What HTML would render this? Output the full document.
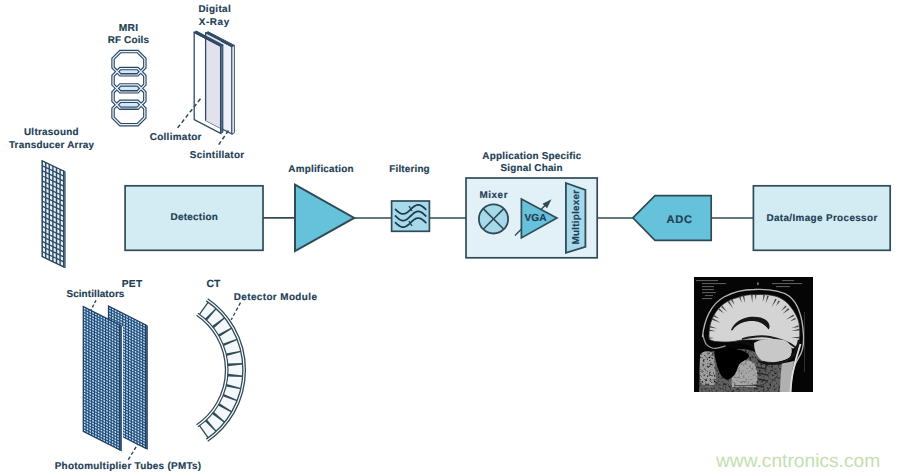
<!DOCTYPE html>
<html><head><meta charset="utf-8"><style>
html,body{margin:0;padding:0;background:#fff;}
svg{display:block;font-family:"Liberation Sans",sans-serif;}
</style></head><body>
<svg width="900" height="476" viewBox="0 0 900 476">
<rect width="900" height="476" fill="#ffffff"/>
<polygon points="120.25,68.55 137.65,68.55 141.25,71.68 137.65,74.80 120.25,74.80 116.65,71.68" fill="#d4e8f6"/>
<polygon points="120.25,84.95 137.65,84.95 141.25,88.40 137.65,91.85 120.25,91.85 116.65,88.40" fill="#d4e8f6"/>
<polygon points="120.25,101.35 137.65,101.35 141.25,104.80 137.65,108.25 120.25,108.25 116.65,104.80" fill="#d4e8f6"/>
<polygon points="120.27,51.50 137.63,51.50 144.85,58.72 144.85,67.58 137.63,74.80 120.27,74.80 113.05,67.58 113.05,58.72" fill="none" stroke="#284868" stroke-width="3.5" stroke-linejoin="miter"/>
<polygon points="120.27,68.55 137.63,68.55 144.85,75.77 144.85,84.63 137.63,91.85 120.27,91.85 113.05,84.63 113.05,75.77" fill="none" stroke="#284868" stroke-width="3.5" stroke-linejoin="miter"/>
<polygon points="120.27,84.95 137.63,84.95 144.85,92.17 144.85,101.03 137.63,108.25 120.27,108.25 113.05,101.03 113.05,92.17" fill="none" stroke="#284868" stroke-width="3.5" stroke-linejoin="miter"/>
<polygon points="120.27,101.35 137.63,101.35 144.85,108.57 144.85,117.43 137.63,124.65 120.27,124.65 113.05,117.43 113.05,108.57" fill="none" stroke="#284868" stroke-width="3.5" stroke-linejoin="miter"/>
<polygon points="120.27,51.50 137.63,51.50 144.85,58.72 144.85,67.58 137.63,74.80 120.27,74.80 113.05,67.58 113.05,58.72" fill="none" stroke="#eef2f7" stroke-width="1.25" stroke-linejoin="miter"/>
<polygon points="120.27,68.55 137.63,68.55 144.85,75.77 144.85,84.63 137.63,91.85 120.27,91.85 113.05,84.63 113.05,75.77" fill="none" stroke="#eef2f7" stroke-width="1.25" stroke-linejoin="miter"/>
<polygon points="120.27,84.95 137.63,84.95 144.85,92.17 144.85,101.03 137.63,108.25 120.27,108.25 113.05,101.03 113.05,92.17" fill="none" stroke="#eef2f7" stroke-width="1.25" stroke-linejoin="miter"/>
<polygon points="120.27,101.35 137.63,101.35 144.85,108.57 144.85,117.43 137.63,124.65 120.27,124.65 113.05,117.43 113.05,108.57" fill="none" stroke="#eef2f7" stroke-width="1.25" stroke-linejoin="miter"/>
<line x1="120.25000000000001" y1="74.8" x2="137.65" y2="74.8" stroke="#7c88a8" stroke-width="1.1"/>
<line x1="120.25000000000001" y1="91.85" x2="137.65" y2="91.85" stroke="#7c88a8" stroke-width="1.1"/>
<line x1="120.25000000000001" y1="108.25" x2="137.65" y2="108.25" stroke="#7c88a8" stroke-width="1.1"/>
<g>
<polygon points="205.60,33.00 231.90,46.68 231.90,134.08 205.60,120.40" fill="#eef0f5" stroke="#2f4a66" stroke-width="1.2"/>
<polygon points="205.60,33.00 208.10,31.70 234.40,45.38 231.90,46.68" fill="#2f4a66" stroke="#2f4a66" stroke-width="0.95" stroke-linejoin="round"/>
<polygon points="231.90,46.68 234.40,45.38 234.40,132.78 231.90,134.08" fill="#f2f4f8" stroke="#2f4a66" stroke-width="0.95" stroke-linejoin="round"/>
<polygon points="205.60,33.40 220.60,41.20 220.60,128.20 205.60,120.40" fill="#e1e2ed"/>
<line x1="205.6" y1="33.4" x2="205.6" y2="120.4" stroke="#2f4a66" stroke-width="1.3"/>
<polygon points="194.20,32.40 220.60,46.13 220.60,133.33 194.20,119.60" fill="none" stroke="#2f4a66" stroke-width="1.3"/>
<polygon points="194.20,32.40 196.40,31.20 222.80,44.93 220.60,46.13" fill="#2f4a66" stroke="#2f4a66" stroke-width="1.1" stroke-linejoin="round"/>
<polygon points="220.60,46.13 222.80,44.93 222.80,132.13 220.60,133.33" fill="#5d7590" stroke="#2f4a66" stroke-width="1.1" stroke-linejoin="round"/>
</g>
<line x1="177.6" y1="127.9" x2="202" y2="96.8" stroke="#304b56" stroke-width="1.5" stroke-dasharray="4,2.6"/>
<line x1="218.7" y1="144.7" x2="229.7" y2="128.7" stroke="#304b56" stroke-width="1.5" stroke-dasharray="4,2.6"/>
<g transform="matrix(1,0.48,0,1,42.1,160.6)">
<rect x="0" y="0" width="21.6" height="96.0" fill="#2f4c66"/>
<rect x="0.72" y="0.72" width="2.16" height="3.61" fill="#e6f1f9"/>
<rect x="0.72" y="5.77" width="2.16" height="3.61" fill="#e6f1f9"/>
<rect x="0.72" y="10.83" width="2.16" height="3.61" fill="#e6f1f9"/>
<rect x="0.72" y="15.88" width="2.16" height="3.61" fill="#e6f1f9"/>
<rect x="0.72" y="20.93" width="2.16" height="3.61" fill="#e6f1f9"/>
<rect x="0.72" y="25.98" width="2.16" height="3.61" fill="#e6f1f9"/>
<rect x="0.72" y="31.04" width="2.16" height="3.61" fill="#e6f1f9"/>
<rect x="0.72" y="36.09" width="2.16" height="3.61" fill="#e6f1f9"/>
<rect x="0.72" y="41.14" width="2.16" height="3.61" fill="#e6f1f9"/>
<rect x="0.72" y="46.19" width="2.16" height="3.61" fill="#e6f1f9"/>
<rect x="0.72" y="51.25" width="2.16" height="3.61" fill="#e6f1f9"/>
<rect x="0.72" y="56.30" width="2.16" height="3.61" fill="#e6f1f9"/>
<rect x="0.72" y="61.35" width="2.16" height="3.61" fill="#e6f1f9"/>
<rect x="0.72" y="66.40" width="2.16" height="3.61" fill="#e6f1f9"/>
<rect x="0.72" y="71.46" width="2.16" height="3.61" fill="#e6f1f9"/>
<rect x="0.72" y="76.51" width="2.16" height="3.61" fill="#e6f1f9"/>
<rect x="0.72" y="81.56" width="2.16" height="3.61" fill="#e6f1f9"/>
<rect x="0.72" y="86.61" width="2.16" height="3.61" fill="#e6f1f9"/>
<rect x="0.72" y="91.67" width="2.16" height="3.61" fill="#e6f1f9"/>
<rect x="4.32" y="0.72" width="2.16" height="3.61" fill="#e6f1f9"/>
<rect x="4.32" y="5.77" width="2.16" height="3.61" fill="#e6f1f9"/>
<rect x="4.32" y="10.83" width="2.16" height="3.61" fill="#e6f1f9"/>
<rect x="4.32" y="15.88" width="2.16" height="3.61" fill="#e6f1f9"/>
<rect x="4.32" y="20.93" width="2.16" height="3.61" fill="#e6f1f9"/>
<rect x="4.32" y="25.98" width="2.16" height="3.61" fill="#e6f1f9"/>
<rect x="4.32" y="31.04" width="2.16" height="3.61" fill="#e6f1f9"/>
<rect x="4.32" y="36.09" width="2.16" height="3.61" fill="#e6f1f9"/>
<rect x="4.32" y="41.14" width="2.16" height="3.61" fill="#e6f1f9"/>
<rect x="4.32" y="46.19" width="2.16" height="3.61" fill="#e6f1f9"/>
<rect x="4.32" y="51.25" width="2.16" height="3.61" fill="#e6f1f9"/>
<rect x="4.32" y="56.30" width="2.16" height="3.61" fill="#e6f1f9"/>
<rect x="4.32" y="61.35" width="2.16" height="3.61" fill="#e6f1f9"/>
<rect x="4.32" y="66.40" width="2.16" height="3.61" fill="#e6f1f9"/>
<rect x="4.32" y="71.46" width="2.16" height="3.61" fill="#e6f1f9"/>
<rect x="4.32" y="76.51" width="2.16" height="3.61" fill="#e6f1f9"/>
<rect x="4.32" y="81.56" width="2.16" height="3.61" fill="#e6f1f9"/>
<rect x="4.32" y="86.61" width="2.16" height="3.61" fill="#e6f1f9"/>
<rect x="4.32" y="91.67" width="2.16" height="3.61" fill="#e6f1f9"/>
<rect x="7.92" y="0.72" width="2.16" height="3.61" fill="#e6f1f9"/>
<rect x="7.92" y="5.77" width="2.16" height="3.61" fill="#e6f1f9"/>
<rect x="7.92" y="10.83" width="2.16" height="3.61" fill="#e6f1f9"/>
<rect x="7.92" y="15.88" width="2.16" height="3.61" fill="#e6f1f9"/>
<rect x="7.92" y="20.93" width="2.16" height="3.61" fill="#e6f1f9"/>
<rect x="7.92" y="25.98" width="2.16" height="3.61" fill="#e6f1f9"/>
<rect x="7.92" y="31.04" width="2.16" height="3.61" fill="#e6f1f9"/>
<rect x="7.92" y="36.09" width="2.16" height="3.61" fill="#e6f1f9"/>
<rect x="7.92" y="41.14" width="2.16" height="3.61" fill="#e6f1f9"/>
<rect x="7.92" y="46.19" width="2.16" height="3.61" fill="#e6f1f9"/>
<rect x="7.92" y="51.25" width="2.16" height="3.61" fill="#e6f1f9"/>
<rect x="7.92" y="56.30" width="2.16" height="3.61" fill="#e6f1f9"/>
<rect x="7.92" y="61.35" width="2.16" height="3.61" fill="#e6f1f9"/>
<rect x="7.92" y="66.40" width="2.16" height="3.61" fill="#e6f1f9"/>
<rect x="7.92" y="71.46" width="2.16" height="3.61" fill="#e6f1f9"/>
<rect x="7.92" y="76.51" width="2.16" height="3.61" fill="#e6f1f9"/>
<rect x="7.92" y="81.56" width="2.16" height="3.61" fill="#e6f1f9"/>
<rect x="7.92" y="86.61" width="2.16" height="3.61" fill="#e6f1f9"/>
<rect x="7.92" y="91.67" width="2.16" height="3.61" fill="#e6f1f9"/>
<rect x="11.52" y="0.72" width="2.16" height="3.61" fill="#e6f1f9"/>
<rect x="11.52" y="5.77" width="2.16" height="3.61" fill="#e6f1f9"/>
<rect x="11.52" y="10.83" width="2.16" height="3.61" fill="#e6f1f9"/>
<rect x="11.52" y="15.88" width="2.16" height="3.61" fill="#e6f1f9"/>
<rect x="11.52" y="20.93" width="2.16" height="3.61" fill="#e6f1f9"/>
<rect x="11.52" y="25.98" width="2.16" height="3.61" fill="#e6f1f9"/>
<rect x="11.52" y="31.04" width="2.16" height="3.61" fill="#e6f1f9"/>
<rect x="11.52" y="36.09" width="2.16" height="3.61" fill="#e6f1f9"/>
<rect x="11.52" y="41.14" width="2.16" height="3.61" fill="#e6f1f9"/>
<rect x="11.52" y="46.19" width="2.16" height="3.61" fill="#e6f1f9"/>
<rect x="11.52" y="51.25" width="2.16" height="3.61" fill="#e6f1f9"/>
<rect x="11.52" y="56.30" width="2.16" height="3.61" fill="#e6f1f9"/>
<rect x="11.52" y="61.35" width="2.16" height="3.61" fill="#e6f1f9"/>
<rect x="11.52" y="66.40" width="2.16" height="3.61" fill="#e6f1f9"/>
<rect x="11.52" y="71.46" width="2.16" height="3.61" fill="#e6f1f9"/>
<rect x="11.52" y="76.51" width="2.16" height="3.61" fill="#e6f1f9"/>
<rect x="11.52" y="81.56" width="2.16" height="3.61" fill="#e6f1f9"/>
<rect x="11.52" y="86.61" width="2.16" height="3.61" fill="#e6f1f9"/>
<rect x="11.52" y="91.67" width="2.16" height="3.61" fill="#e6f1f9"/>
<rect x="15.12" y="0.72" width="2.16" height="3.61" fill="#e6f1f9"/>
<rect x="15.12" y="5.77" width="2.16" height="3.61" fill="#e6f1f9"/>
<rect x="15.12" y="10.83" width="2.16" height="3.61" fill="#e6f1f9"/>
<rect x="15.12" y="15.88" width="2.16" height="3.61" fill="#e6f1f9"/>
<rect x="15.12" y="20.93" width="2.16" height="3.61" fill="#e6f1f9"/>
<rect x="15.12" y="25.98" width="2.16" height="3.61" fill="#e6f1f9"/>
<rect x="15.12" y="31.04" width="2.16" height="3.61" fill="#e6f1f9"/>
<rect x="15.12" y="36.09" width="2.16" height="3.61" fill="#e6f1f9"/>
<rect x="15.12" y="41.14" width="2.16" height="3.61" fill="#e6f1f9"/>
<rect x="15.12" y="46.19" width="2.16" height="3.61" fill="#e6f1f9"/>
<rect x="15.12" y="51.25" width="2.16" height="3.61" fill="#e6f1f9"/>
<rect x="15.12" y="56.30" width="2.16" height="3.61" fill="#e6f1f9"/>
<rect x="15.12" y="61.35" width="2.16" height="3.61" fill="#e6f1f9"/>
<rect x="15.12" y="66.40" width="2.16" height="3.61" fill="#e6f1f9"/>
<rect x="15.12" y="71.46" width="2.16" height="3.61" fill="#e6f1f9"/>
<rect x="15.12" y="76.51" width="2.16" height="3.61" fill="#e6f1f9"/>
<rect x="15.12" y="81.56" width="2.16" height="3.61" fill="#e6f1f9"/>
<rect x="15.12" y="86.61" width="2.16" height="3.61" fill="#e6f1f9"/>
<rect x="15.12" y="91.67" width="2.16" height="3.61" fill="#e6f1f9"/>
<rect x="18.72" y="0.72" width="2.16" height="3.61" fill="#e6f1f9"/>
<rect x="18.72" y="5.77" width="2.16" height="3.61" fill="#e6f1f9"/>
<rect x="18.72" y="10.83" width="2.16" height="3.61" fill="#e6f1f9"/>
<rect x="18.72" y="15.88" width="2.16" height="3.61" fill="#e6f1f9"/>
<rect x="18.72" y="20.93" width="2.16" height="3.61" fill="#e6f1f9"/>
<rect x="18.72" y="25.98" width="2.16" height="3.61" fill="#e6f1f9"/>
<rect x="18.72" y="31.04" width="2.16" height="3.61" fill="#e6f1f9"/>
<rect x="18.72" y="36.09" width="2.16" height="3.61" fill="#e6f1f9"/>
<rect x="18.72" y="41.14" width="2.16" height="3.61" fill="#e6f1f9"/>
<rect x="18.72" y="46.19" width="2.16" height="3.61" fill="#e6f1f9"/>
<rect x="18.72" y="51.25" width="2.16" height="3.61" fill="#e6f1f9"/>
<rect x="18.72" y="56.30" width="2.16" height="3.61" fill="#e6f1f9"/>
<rect x="18.72" y="61.35" width="2.16" height="3.61" fill="#e6f1f9"/>
<rect x="18.72" y="66.40" width="2.16" height="3.61" fill="#e6f1f9"/>
<rect x="18.72" y="71.46" width="2.16" height="3.61" fill="#e6f1f9"/>
<rect x="18.72" y="76.51" width="2.16" height="3.61" fill="#e6f1f9"/>
<rect x="18.72" y="81.56" width="2.16" height="3.61" fill="#e6f1f9"/>
<rect x="18.72" y="86.61" width="2.16" height="3.61" fill="#e6f1f9"/>
<rect x="18.72" y="91.67" width="2.16" height="3.61" fill="#e6f1f9"/>
<rect x="0" y="0" width="21.6" height="96.0" fill="none" stroke="#26425c" stroke-width="1.3"/>
<rect x="21.6" y="0" width="1.4" height="96.0" fill="#7b94ab" stroke="#26425c" stroke-width="0.9"/>
</g>
<g transform="matrix(1,0.506,0,1,108.5,306.0)">
<rect x="0" y="0" width="37.0" height="123.5" fill="#1f4b7a"/>
<rect x="0.60" y="0.60" width="1.65" height="1.61" fill="#cde5f8"/>
<rect x="0.60" y="3.41" width="1.65" height="1.61" fill="#cde5f8"/>
<rect x="0.60" y="6.21" width="1.65" height="1.61" fill="#cde5f8"/>
<rect x="0.60" y="9.02" width="1.65" height="1.61" fill="#cde5f8"/>
<rect x="0.60" y="11.83" width="1.65" height="1.61" fill="#cde5f8"/>
<rect x="0.60" y="14.63" width="1.65" height="1.61" fill="#cde5f8"/>
<rect x="0.60" y="17.44" width="1.65" height="1.61" fill="#cde5f8"/>
<rect x="0.60" y="20.25" width="1.65" height="1.61" fill="#cde5f8"/>
<rect x="0.60" y="23.05" width="1.65" height="1.61" fill="#cde5f8"/>
<rect x="0.60" y="25.86" width="1.65" height="1.61" fill="#cde5f8"/>
<rect x="0.60" y="28.67" width="1.65" height="1.61" fill="#cde5f8"/>
<rect x="0.60" y="31.48" width="1.65" height="1.61" fill="#cde5f8"/>
<rect x="0.60" y="34.28" width="1.65" height="1.61" fill="#cde5f8"/>
<rect x="0.60" y="37.09" width="1.65" height="1.61" fill="#cde5f8"/>
<rect x="0.60" y="39.90" width="1.65" height="1.61" fill="#cde5f8"/>
<rect x="0.60" y="42.70" width="1.65" height="1.61" fill="#cde5f8"/>
<rect x="0.60" y="45.51" width="1.65" height="1.61" fill="#cde5f8"/>
<rect x="0.60" y="48.32" width="1.65" height="1.61" fill="#cde5f8"/>
<rect x="0.60" y="51.12" width="1.65" height="1.61" fill="#cde5f8"/>
<rect x="0.60" y="53.93" width="1.65" height="1.61" fill="#cde5f8"/>
<rect x="0.60" y="56.74" width="1.65" height="1.61" fill="#cde5f8"/>
<rect x="0.60" y="59.54" width="1.65" height="1.61" fill="#cde5f8"/>
<rect x="0.60" y="62.35" width="1.65" height="1.61" fill="#cde5f8"/>
<rect x="0.60" y="65.16" width="1.65" height="1.61" fill="#cde5f8"/>
<rect x="0.60" y="67.96" width="1.65" height="1.61" fill="#cde5f8"/>
<rect x="0.60" y="70.77" width="1.65" height="1.61" fill="#cde5f8"/>
<rect x="0.60" y="73.58" width="1.65" height="1.61" fill="#cde5f8"/>
<rect x="0.60" y="76.38" width="1.65" height="1.61" fill="#cde5f8"/>
<rect x="0.60" y="79.19" width="1.65" height="1.61" fill="#cde5f8"/>
<rect x="0.60" y="82.00" width="1.65" height="1.61" fill="#cde5f8"/>
<rect x="0.60" y="84.80" width="1.65" height="1.61" fill="#cde5f8"/>
<rect x="0.60" y="87.61" width="1.65" height="1.61" fill="#cde5f8"/>
<rect x="0.60" y="90.42" width="1.65" height="1.61" fill="#cde5f8"/>
<rect x="0.60" y="93.22" width="1.65" height="1.61" fill="#cde5f8"/>
<rect x="0.60" y="96.03" width="1.65" height="1.61" fill="#cde5f8"/>
<rect x="0.60" y="98.84" width="1.65" height="1.61" fill="#cde5f8"/>
<rect x="0.60" y="101.65" width="1.65" height="1.61" fill="#cde5f8"/>
<rect x="0.60" y="104.45" width="1.65" height="1.61" fill="#cde5f8"/>
<rect x="0.60" y="107.26" width="1.65" height="1.61" fill="#cde5f8"/>
<rect x="0.60" y="110.07" width="1.65" height="1.61" fill="#cde5f8"/>
<rect x="0.60" y="112.87" width="1.65" height="1.61" fill="#cde5f8"/>
<rect x="0.60" y="115.68" width="1.65" height="1.61" fill="#cde5f8"/>
<rect x="0.60" y="118.49" width="1.65" height="1.61" fill="#cde5f8"/>
<rect x="0.60" y="121.29" width="1.65" height="1.61" fill="#cde5f8"/>
<rect x="3.45" y="0.60" width="1.65" height="1.61" fill="#cde5f8"/>
<rect x="3.45" y="3.41" width="1.65" height="1.61" fill="#cde5f8"/>
<rect x="3.45" y="6.21" width="1.65" height="1.61" fill="#cde5f8"/>
<rect x="3.45" y="9.02" width="1.65" height="1.61" fill="#cde5f8"/>
<rect x="3.45" y="11.83" width="1.65" height="1.61" fill="#cde5f8"/>
<rect x="3.45" y="14.63" width="1.65" height="1.61" fill="#cde5f8"/>
<rect x="3.45" y="17.44" width="1.65" height="1.61" fill="#cde5f8"/>
<rect x="3.45" y="20.25" width="1.65" height="1.61" fill="#cde5f8"/>
<rect x="3.45" y="23.05" width="1.65" height="1.61" fill="#cde5f8"/>
<rect x="3.45" y="25.86" width="1.65" height="1.61" fill="#cde5f8"/>
<rect x="3.45" y="28.67" width="1.65" height="1.61" fill="#cde5f8"/>
<rect x="3.45" y="31.48" width="1.65" height="1.61" fill="#cde5f8"/>
<rect x="3.45" y="34.28" width="1.65" height="1.61" fill="#cde5f8"/>
<rect x="3.45" y="37.09" width="1.65" height="1.61" fill="#cde5f8"/>
<rect x="3.45" y="39.90" width="1.65" height="1.61" fill="#cde5f8"/>
<rect x="3.45" y="42.70" width="1.65" height="1.61" fill="#cde5f8"/>
<rect x="3.45" y="45.51" width="1.65" height="1.61" fill="#cde5f8"/>
<rect x="3.45" y="48.32" width="1.65" height="1.61" fill="#cde5f8"/>
<rect x="3.45" y="51.12" width="1.65" height="1.61" fill="#cde5f8"/>
<rect x="3.45" y="53.93" width="1.65" height="1.61" fill="#cde5f8"/>
<rect x="3.45" y="56.74" width="1.65" height="1.61" fill="#cde5f8"/>
<rect x="3.45" y="59.54" width="1.65" height="1.61" fill="#cde5f8"/>
<rect x="3.45" y="62.35" width="1.65" height="1.61" fill="#cde5f8"/>
<rect x="3.45" y="65.16" width="1.65" height="1.61" fill="#cde5f8"/>
<rect x="3.45" y="67.96" width="1.65" height="1.61" fill="#cde5f8"/>
<rect x="3.45" y="70.77" width="1.65" height="1.61" fill="#cde5f8"/>
<rect x="3.45" y="73.58" width="1.65" height="1.61" fill="#cde5f8"/>
<rect x="3.45" y="76.38" width="1.65" height="1.61" fill="#cde5f8"/>
<rect x="3.45" y="79.19" width="1.65" height="1.61" fill="#cde5f8"/>
<rect x="3.45" y="82.00" width="1.65" height="1.61" fill="#cde5f8"/>
<rect x="3.45" y="84.80" width="1.65" height="1.61" fill="#cde5f8"/>
<rect x="3.45" y="87.61" width="1.65" height="1.61" fill="#cde5f8"/>
<rect x="3.45" y="90.42" width="1.65" height="1.61" fill="#cde5f8"/>
<rect x="3.45" y="93.22" width="1.65" height="1.61" fill="#cde5f8"/>
<rect x="3.45" y="96.03" width="1.65" height="1.61" fill="#cde5f8"/>
<rect x="3.45" y="98.84" width="1.65" height="1.61" fill="#cde5f8"/>
<rect x="3.45" y="101.65" width="1.65" height="1.61" fill="#cde5f8"/>
<rect x="3.45" y="104.45" width="1.65" height="1.61" fill="#cde5f8"/>
<rect x="3.45" y="107.26" width="1.65" height="1.61" fill="#cde5f8"/>
<rect x="3.45" y="110.07" width="1.65" height="1.61" fill="#cde5f8"/>
<rect x="3.45" y="112.87" width="1.65" height="1.61" fill="#cde5f8"/>
<rect x="3.45" y="115.68" width="1.65" height="1.61" fill="#cde5f8"/>
<rect x="3.45" y="118.49" width="1.65" height="1.61" fill="#cde5f8"/>
<rect x="3.45" y="121.29" width="1.65" height="1.61" fill="#cde5f8"/>
<rect x="6.29" y="0.60" width="1.65" height="1.61" fill="#cde5f8"/>
<rect x="6.29" y="3.41" width="1.65" height="1.61" fill="#cde5f8"/>
<rect x="6.29" y="6.21" width="1.65" height="1.61" fill="#cde5f8"/>
<rect x="6.29" y="9.02" width="1.65" height="1.61" fill="#cde5f8"/>
<rect x="6.29" y="11.83" width="1.65" height="1.61" fill="#cde5f8"/>
<rect x="6.29" y="14.63" width="1.65" height="1.61" fill="#cde5f8"/>
<rect x="6.29" y="17.44" width="1.65" height="1.61" fill="#cde5f8"/>
<rect x="6.29" y="20.25" width="1.65" height="1.61" fill="#cde5f8"/>
<rect x="6.29" y="23.05" width="1.65" height="1.61" fill="#cde5f8"/>
<rect x="6.29" y="25.86" width="1.65" height="1.61" fill="#cde5f8"/>
<rect x="6.29" y="28.67" width="1.65" height="1.61" fill="#cde5f8"/>
<rect x="6.29" y="31.48" width="1.65" height="1.61" fill="#cde5f8"/>
<rect x="6.29" y="34.28" width="1.65" height="1.61" fill="#cde5f8"/>
<rect x="6.29" y="37.09" width="1.65" height="1.61" fill="#cde5f8"/>
<rect x="6.29" y="39.90" width="1.65" height="1.61" fill="#cde5f8"/>
<rect x="6.29" y="42.70" width="1.65" height="1.61" fill="#cde5f8"/>
<rect x="6.29" y="45.51" width="1.65" height="1.61" fill="#cde5f8"/>
<rect x="6.29" y="48.32" width="1.65" height="1.61" fill="#cde5f8"/>
<rect x="6.29" y="51.12" width="1.65" height="1.61" fill="#cde5f8"/>
<rect x="6.29" y="53.93" width="1.65" height="1.61" fill="#cde5f8"/>
<rect x="6.29" y="56.74" width="1.65" height="1.61" fill="#cde5f8"/>
<rect x="6.29" y="59.54" width="1.65" height="1.61" fill="#cde5f8"/>
<rect x="6.29" y="62.35" width="1.65" height="1.61" fill="#cde5f8"/>
<rect x="6.29" y="65.16" width="1.65" height="1.61" fill="#cde5f8"/>
<rect x="6.29" y="67.96" width="1.65" height="1.61" fill="#cde5f8"/>
<rect x="6.29" y="70.77" width="1.65" height="1.61" fill="#cde5f8"/>
<rect x="6.29" y="73.58" width="1.65" height="1.61" fill="#cde5f8"/>
<rect x="6.29" y="76.38" width="1.65" height="1.61" fill="#cde5f8"/>
<rect x="6.29" y="79.19" width="1.65" height="1.61" fill="#cde5f8"/>
<rect x="6.29" y="82.00" width="1.65" height="1.61" fill="#cde5f8"/>
<rect x="6.29" y="84.80" width="1.65" height="1.61" fill="#cde5f8"/>
<rect x="6.29" y="87.61" width="1.65" height="1.61" fill="#cde5f8"/>
<rect x="6.29" y="90.42" width="1.65" height="1.61" fill="#cde5f8"/>
<rect x="6.29" y="93.22" width="1.65" height="1.61" fill="#cde5f8"/>
<rect x="6.29" y="96.03" width="1.65" height="1.61" fill="#cde5f8"/>
<rect x="6.29" y="98.84" width="1.65" height="1.61" fill="#cde5f8"/>
<rect x="6.29" y="101.65" width="1.65" height="1.61" fill="#cde5f8"/>
<rect x="6.29" y="104.45" width="1.65" height="1.61" fill="#cde5f8"/>
<rect x="6.29" y="107.26" width="1.65" height="1.61" fill="#cde5f8"/>
<rect x="6.29" y="110.07" width="1.65" height="1.61" fill="#cde5f8"/>
<rect x="6.29" y="112.87" width="1.65" height="1.61" fill="#cde5f8"/>
<rect x="6.29" y="115.68" width="1.65" height="1.61" fill="#cde5f8"/>
<rect x="6.29" y="118.49" width="1.65" height="1.61" fill="#cde5f8"/>
<rect x="6.29" y="121.29" width="1.65" height="1.61" fill="#cde5f8"/>
<rect x="9.14" y="0.60" width="1.65" height="1.61" fill="#cde5f8"/>
<rect x="9.14" y="3.41" width="1.65" height="1.61" fill="#cde5f8"/>
<rect x="9.14" y="6.21" width="1.65" height="1.61" fill="#cde5f8"/>
<rect x="9.14" y="9.02" width="1.65" height="1.61" fill="#cde5f8"/>
<rect x="9.14" y="11.83" width="1.65" height="1.61" fill="#cde5f8"/>
<rect x="9.14" y="14.63" width="1.65" height="1.61" fill="#cde5f8"/>
<rect x="9.14" y="17.44" width="1.65" height="1.61" fill="#cde5f8"/>
<rect x="9.14" y="20.25" width="1.65" height="1.61" fill="#cde5f8"/>
<rect x="9.14" y="23.05" width="1.65" height="1.61" fill="#cde5f8"/>
<rect x="9.14" y="25.86" width="1.65" height="1.61" fill="#cde5f8"/>
<rect x="9.14" y="28.67" width="1.65" height="1.61" fill="#cde5f8"/>
<rect x="9.14" y="31.48" width="1.65" height="1.61" fill="#cde5f8"/>
<rect x="9.14" y="34.28" width="1.65" height="1.61" fill="#cde5f8"/>
<rect x="9.14" y="37.09" width="1.65" height="1.61" fill="#cde5f8"/>
<rect x="9.14" y="39.90" width="1.65" height="1.61" fill="#cde5f8"/>
<rect x="9.14" y="42.70" width="1.65" height="1.61" fill="#cde5f8"/>
<rect x="9.14" y="45.51" width="1.65" height="1.61" fill="#cde5f8"/>
<rect x="9.14" y="48.32" width="1.65" height="1.61" fill="#cde5f8"/>
<rect x="9.14" y="51.12" width="1.65" height="1.61" fill="#cde5f8"/>
<rect x="9.14" y="53.93" width="1.65" height="1.61" fill="#cde5f8"/>
<rect x="9.14" y="56.74" width="1.65" height="1.61" fill="#cde5f8"/>
<rect x="9.14" y="59.54" width="1.65" height="1.61" fill="#cde5f8"/>
<rect x="9.14" y="62.35" width="1.65" height="1.61" fill="#cde5f8"/>
<rect x="9.14" y="65.16" width="1.65" height="1.61" fill="#cde5f8"/>
<rect x="9.14" y="67.96" width="1.65" height="1.61" fill="#cde5f8"/>
<rect x="9.14" y="70.77" width="1.65" height="1.61" fill="#cde5f8"/>
<rect x="9.14" y="73.58" width="1.65" height="1.61" fill="#cde5f8"/>
<rect x="9.14" y="76.38" width="1.65" height="1.61" fill="#cde5f8"/>
<rect x="9.14" y="79.19" width="1.65" height="1.61" fill="#cde5f8"/>
<rect x="9.14" y="82.00" width="1.65" height="1.61" fill="#cde5f8"/>
<rect x="9.14" y="84.80" width="1.65" height="1.61" fill="#cde5f8"/>
<rect x="9.14" y="87.61" width="1.65" height="1.61" fill="#cde5f8"/>
<rect x="9.14" y="90.42" width="1.65" height="1.61" fill="#cde5f8"/>
<rect x="9.14" y="93.22" width="1.65" height="1.61" fill="#cde5f8"/>
<rect x="9.14" y="96.03" width="1.65" height="1.61" fill="#cde5f8"/>
<rect x="9.14" y="98.84" width="1.65" height="1.61" fill="#cde5f8"/>
<rect x="9.14" y="101.65" width="1.65" height="1.61" fill="#cde5f8"/>
<rect x="9.14" y="104.45" width="1.65" height="1.61" fill="#cde5f8"/>
<rect x="9.14" y="107.26" width="1.65" height="1.61" fill="#cde5f8"/>
<rect x="9.14" y="110.07" width="1.65" height="1.61" fill="#cde5f8"/>
<rect x="9.14" y="112.87" width="1.65" height="1.61" fill="#cde5f8"/>
<rect x="9.14" y="115.68" width="1.65" height="1.61" fill="#cde5f8"/>
<rect x="9.14" y="118.49" width="1.65" height="1.61" fill="#cde5f8"/>
<rect x="9.14" y="121.29" width="1.65" height="1.61" fill="#cde5f8"/>
<rect x="11.98" y="0.60" width="1.65" height="1.61" fill="#cde5f8"/>
<rect x="11.98" y="3.41" width="1.65" height="1.61" fill="#cde5f8"/>
<rect x="11.98" y="6.21" width="1.65" height="1.61" fill="#cde5f8"/>
<rect x="11.98" y="9.02" width="1.65" height="1.61" fill="#cde5f8"/>
<rect x="11.98" y="11.83" width="1.65" height="1.61" fill="#cde5f8"/>
<rect x="11.98" y="14.63" width="1.65" height="1.61" fill="#cde5f8"/>
<rect x="11.98" y="17.44" width="1.65" height="1.61" fill="#cde5f8"/>
<rect x="11.98" y="20.25" width="1.65" height="1.61" fill="#cde5f8"/>
<rect x="11.98" y="23.05" width="1.65" height="1.61" fill="#cde5f8"/>
<rect x="11.98" y="25.86" width="1.65" height="1.61" fill="#cde5f8"/>
<rect x="11.98" y="28.67" width="1.65" height="1.61" fill="#cde5f8"/>
<rect x="11.98" y="31.48" width="1.65" height="1.61" fill="#cde5f8"/>
<rect x="11.98" y="34.28" width="1.65" height="1.61" fill="#cde5f8"/>
<rect x="11.98" y="37.09" width="1.65" height="1.61" fill="#cde5f8"/>
<rect x="11.98" y="39.90" width="1.65" height="1.61" fill="#cde5f8"/>
<rect x="11.98" y="42.70" width="1.65" height="1.61" fill="#cde5f8"/>
<rect x="11.98" y="45.51" width="1.65" height="1.61" fill="#cde5f8"/>
<rect x="11.98" y="48.32" width="1.65" height="1.61" fill="#cde5f8"/>
<rect x="11.98" y="51.12" width="1.65" height="1.61" fill="#cde5f8"/>
<rect x="11.98" y="53.93" width="1.65" height="1.61" fill="#cde5f8"/>
<rect x="11.98" y="56.74" width="1.65" height="1.61" fill="#cde5f8"/>
<rect x="11.98" y="59.54" width="1.65" height="1.61" fill="#cde5f8"/>
<rect x="11.98" y="62.35" width="1.65" height="1.61" fill="#cde5f8"/>
<rect x="11.98" y="65.16" width="1.65" height="1.61" fill="#cde5f8"/>
<rect x="11.98" y="67.96" width="1.65" height="1.61" fill="#cde5f8"/>
<rect x="11.98" y="70.77" width="1.65" height="1.61" fill="#cde5f8"/>
<rect x="11.98" y="73.58" width="1.65" height="1.61" fill="#cde5f8"/>
<rect x="11.98" y="76.38" width="1.65" height="1.61" fill="#cde5f8"/>
<rect x="11.98" y="79.19" width="1.65" height="1.61" fill="#cde5f8"/>
<rect x="11.98" y="82.00" width="1.65" height="1.61" fill="#cde5f8"/>
<rect x="11.98" y="84.80" width="1.65" height="1.61" fill="#cde5f8"/>
<rect x="11.98" y="87.61" width="1.65" height="1.61" fill="#cde5f8"/>
<rect x="11.98" y="90.42" width="1.65" height="1.61" fill="#cde5f8"/>
<rect x="11.98" y="93.22" width="1.65" height="1.61" fill="#cde5f8"/>
<rect x="11.98" y="96.03" width="1.65" height="1.61" fill="#cde5f8"/>
<rect x="11.98" y="98.84" width="1.65" height="1.61" fill="#cde5f8"/>
<rect x="11.98" y="101.65" width="1.65" height="1.61" fill="#cde5f8"/>
<rect x="11.98" y="104.45" width="1.65" height="1.61" fill="#cde5f8"/>
<rect x="11.98" y="107.26" width="1.65" height="1.61" fill="#cde5f8"/>
<rect x="11.98" y="110.07" width="1.65" height="1.61" fill="#cde5f8"/>
<rect x="11.98" y="112.87" width="1.65" height="1.61" fill="#cde5f8"/>
<rect x="11.98" y="115.68" width="1.65" height="1.61" fill="#cde5f8"/>
<rect x="11.98" y="118.49" width="1.65" height="1.61" fill="#cde5f8"/>
<rect x="11.98" y="121.29" width="1.65" height="1.61" fill="#cde5f8"/>
<rect x="14.83" y="0.60" width="1.65" height="1.61" fill="#cde5f8"/>
<rect x="14.83" y="3.41" width="1.65" height="1.61" fill="#cde5f8"/>
<rect x="14.83" y="6.21" width="1.65" height="1.61" fill="#cde5f8"/>
<rect x="14.83" y="9.02" width="1.65" height="1.61" fill="#cde5f8"/>
<rect x="14.83" y="11.83" width="1.65" height="1.61" fill="#cde5f8"/>
<rect x="14.83" y="14.63" width="1.65" height="1.61" fill="#cde5f8"/>
<rect x="14.83" y="17.44" width="1.65" height="1.61" fill="#cde5f8"/>
<rect x="14.83" y="20.25" width="1.65" height="1.61" fill="#cde5f8"/>
<rect x="14.83" y="23.05" width="1.65" height="1.61" fill="#cde5f8"/>
<rect x="14.83" y="25.86" width="1.65" height="1.61" fill="#cde5f8"/>
<rect x="14.83" y="28.67" width="1.65" height="1.61" fill="#cde5f8"/>
<rect x="14.83" y="31.48" width="1.65" height="1.61" fill="#cde5f8"/>
<rect x="14.83" y="34.28" width="1.65" height="1.61" fill="#cde5f8"/>
<rect x="14.83" y="37.09" width="1.65" height="1.61" fill="#cde5f8"/>
<rect x="14.83" y="39.90" width="1.65" height="1.61" fill="#cde5f8"/>
<rect x="14.83" y="42.70" width="1.65" height="1.61" fill="#cde5f8"/>
<rect x="14.83" y="45.51" width="1.65" height="1.61" fill="#cde5f8"/>
<rect x="14.83" y="48.32" width="1.65" height="1.61" fill="#cde5f8"/>
<rect x="14.83" y="51.12" width="1.65" height="1.61" fill="#cde5f8"/>
<rect x="14.83" y="53.93" width="1.65" height="1.61" fill="#cde5f8"/>
<rect x="14.83" y="56.74" width="1.65" height="1.61" fill="#cde5f8"/>
<rect x="14.83" y="59.54" width="1.65" height="1.61" fill="#cde5f8"/>
<rect x="14.83" y="62.35" width="1.65" height="1.61" fill="#cde5f8"/>
<rect x="14.83" y="65.16" width="1.65" height="1.61" fill="#cde5f8"/>
<rect x="14.83" y="67.96" width="1.65" height="1.61" fill="#cde5f8"/>
<rect x="14.83" y="70.77" width="1.65" height="1.61" fill="#cde5f8"/>
<rect x="14.83" y="73.58" width="1.65" height="1.61" fill="#cde5f8"/>
<rect x="14.83" y="76.38" width="1.65" height="1.61" fill="#cde5f8"/>
<rect x="14.83" y="79.19" width="1.65" height="1.61" fill="#cde5f8"/>
<rect x="14.83" y="82.00" width="1.65" height="1.61" fill="#cde5f8"/>
<rect x="14.83" y="84.80" width="1.65" height="1.61" fill="#cde5f8"/>
<rect x="14.83" y="87.61" width="1.65" height="1.61" fill="#cde5f8"/>
<rect x="14.83" y="90.42" width="1.65" height="1.61" fill="#cde5f8"/>
<rect x="14.83" y="93.22" width="1.65" height="1.61" fill="#cde5f8"/>
<rect x="14.83" y="96.03" width="1.65" height="1.61" fill="#cde5f8"/>
<rect x="14.83" y="98.84" width="1.65" height="1.61" fill="#cde5f8"/>
<rect x="14.83" y="101.65" width="1.65" height="1.61" fill="#cde5f8"/>
<rect x="14.83" y="104.45" width="1.65" height="1.61" fill="#cde5f8"/>
<rect x="14.83" y="107.26" width="1.65" height="1.61" fill="#cde5f8"/>
<rect x="14.83" y="110.07" width="1.65" height="1.61" fill="#cde5f8"/>
<rect x="14.83" y="112.87" width="1.65" height="1.61" fill="#cde5f8"/>
<rect x="14.83" y="115.68" width="1.65" height="1.61" fill="#cde5f8"/>
<rect x="14.83" y="118.49" width="1.65" height="1.61" fill="#cde5f8"/>
<rect x="14.83" y="121.29" width="1.65" height="1.61" fill="#cde5f8"/>
<rect x="17.68" y="0.60" width="1.65" height="1.61" fill="#cde5f8"/>
<rect x="17.68" y="3.41" width="1.65" height="1.61" fill="#cde5f8"/>
<rect x="17.68" y="6.21" width="1.65" height="1.61" fill="#cde5f8"/>
<rect x="17.68" y="9.02" width="1.65" height="1.61" fill="#cde5f8"/>
<rect x="17.68" y="11.83" width="1.65" height="1.61" fill="#cde5f8"/>
<rect x="17.68" y="14.63" width="1.65" height="1.61" fill="#cde5f8"/>
<rect x="17.68" y="17.44" width="1.65" height="1.61" fill="#cde5f8"/>
<rect x="17.68" y="20.25" width="1.65" height="1.61" fill="#cde5f8"/>
<rect x="17.68" y="23.05" width="1.65" height="1.61" fill="#cde5f8"/>
<rect x="17.68" y="25.86" width="1.65" height="1.61" fill="#cde5f8"/>
<rect x="17.68" y="28.67" width="1.65" height="1.61" fill="#cde5f8"/>
<rect x="17.68" y="31.48" width="1.65" height="1.61" fill="#cde5f8"/>
<rect x="17.68" y="34.28" width="1.65" height="1.61" fill="#cde5f8"/>
<rect x="17.68" y="37.09" width="1.65" height="1.61" fill="#cde5f8"/>
<rect x="17.68" y="39.90" width="1.65" height="1.61" fill="#cde5f8"/>
<rect x="17.68" y="42.70" width="1.65" height="1.61" fill="#cde5f8"/>
<rect x="17.68" y="45.51" width="1.65" height="1.61" fill="#cde5f8"/>
<rect x="17.68" y="48.32" width="1.65" height="1.61" fill="#cde5f8"/>
<rect x="17.68" y="51.12" width="1.65" height="1.61" fill="#cde5f8"/>
<rect x="17.68" y="53.93" width="1.65" height="1.61" fill="#cde5f8"/>
<rect x="17.68" y="56.74" width="1.65" height="1.61" fill="#cde5f8"/>
<rect x="17.68" y="59.54" width="1.65" height="1.61" fill="#cde5f8"/>
<rect x="17.68" y="62.35" width="1.65" height="1.61" fill="#cde5f8"/>
<rect x="17.68" y="65.16" width="1.65" height="1.61" fill="#cde5f8"/>
<rect x="17.68" y="67.96" width="1.65" height="1.61" fill="#cde5f8"/>
<rect x="17.68" y="70.77" width="1.65" height="1.61" fill="#cde5f8"/>
<rect x="17.68" y="73.58" width="1.65" height="1.61" fill="#cde5f8"/>
<rect x="17.68" y="76.38" width="1.65" height="1.61" fill="#cde5f8"/>
<rect x="17.68" y="79.19" width="1.65" height="1.61" fill="#cde5f8"/>
<rect x="17.68" y="82.00" width="1.65" height="1.61" fill="#cde5f8"/>
<rect x="17.68" y="84.80" width="1.65" height="1.61" fill="#cde5f8"/>
<rect x="17.68" y="87.61" width="1.65" height="1.61" fill="#cde5f8"/>
<rect x="17.68" y="90.42" width="1.65" height="1.61" fill="#cde5f8"/>
<rect x="17.68" y="93.22" width="1.65" height="1.61" fill="#cde5f8"/>
<rect x="17.68" y="96.03" width="1.65" height="1.61" fill="#cde5f8"/>
<rect x="17.68" y="98.84" width="1.65" height="1.61" fill="#cde5f8"/>
<rect x="17.68" y="101.65" width="1.65" height="1.61" fill="#cde5f8"/>
<rect x="17.68" y="104.45" width="1.65" height="1.61" fill="#cde5f8"/>
<rect x="17.68" y="107.26" width="1.65" height="1.61" fill="#cde5f8"/>
<rect x="17.68" y="110.07" width="1.65" height="1.61" fill="#cde5f8"/>
<rect x="17.68" y="112.87" width="1.65" height="1.61" fill="#cde5f8"/>
<rect x="17.68" y="115.68" width="1.65" height="1.61" fill="#cde5f8"/>
<rect x="17.68" y="118.49" width="1.65" height="1.61" fill="#cde5f8"/>
<rect x="17.68" y="121.29" width="1.65" height="1.61" fill="#cde5f8"/>
<rect x="20.52" y="0.60" width="1.65" height="1.61" fill="#cde5f8"/>
<rect x="20.52" y="3.41" width="1.65" height="1.61" fill="#cde5f8"/>
<rect x="20.52" y="6.21" width="1.65" height="1.61" fill="#cde5f8"/>
<rect x="20.52" y="9.02" width="1.65" height="1.61" fill="#cde5f8"/>
<rect x="20.52" y="11.83" width="1.65" height="1.61" fill="#cde5f8"/>
<rect x="20.52" y="14.63" width="1.65" height="1.61" fill="#cde5f8"/>
<rect x="20.52" y="17.44" width="1.65" height="1.61" fill="#cde5f8"/>
<rect x="20.52" y="20.25" width="1.65" height="1.61" fill="#cde5f8"/>
<rect x="20.52" y="23.05" width="1.65" height="1.61" fill="#cde5f8"/>
<rect x="20.52" y="25.86" width="1.65" height="1.61" fill="#cde5f8"/>
<rect x="20.52" y="28.67" width="1.65" height="1.61" fill="#cde5f8"/>
<rect x="20.52" y="31.48" width="1.65" height="1.61" fill="#cde5f8"/>
<rect x="20.52" y="34.28" width="1.65" height="1.61" fill="#cde5f8"/>
<rect x="20.52" y="37.09" width="1.65" height="1.61" fill="#cde5f8"/>
<rect x="20.52" y="39.90" width="1.65" height="1.61" fill="#cde5f8"/>
<rect x="20.52" y="42.70" width="1.65" height="1.61" fill="#cde5f8"/>
<rect x="20.52" y="45.51" width="1.65" height="1.61" fill="#cde5f8"/>
<rect x="20.52" y="48.32" width="1.65" height="1.61" fill="#cde5f8"/>
<rect x="20.52" y="51.12" width="1.65" height="1.61" fill="#cde5f8"/>
<rect x="20.52" y="53.93" width="1.65" height="1.61" fill="#cde5f8"/>
<rect x="20.52" y="56.74" width="1.65" height="1.61" fill="#cde5f8"/>
<rect x="20.52" y="59.54" width="1.65" height="1.61" fill="#cde5f8"/>
<rect x="20.52" y="62.35" width="1.65" height="1.61" fill="#cde5f8"/>
<rect x="20.52" y="65.16" width="1.65" height="1.61" fill="#cde5f8"/>
<rect x="20.52" y="67.96" width="1.65" height="1.61" fill="#cde5f8"/>
<rect x="20.52" y="70.77" width="1.65" height="1.61" fill="#cde5f8"/>
<rect x="20.52" y="73.58" width="1.65" height="1.61" fill="#cde5f8"/>
<rect x="20.52" y="76.38" width="1.65" height="1.61" fill="#cde5f8"/>
<rect x="20.52" y="79.19" width="1.65" height="1.61" fill="#cde5f8"/>
<rect x="20.52" y="82.00" width="1.65" height="1.61" fill="#cde5f8"/>
<rect x="20.52" y="84.80" width="1.65" height="1.61" fill="#cde5f8"/>
<rect x="20.52" y="87.61" width="1.65" height="1.61" fill="#cde5f8"/>
<rect x="20.52" y="90.42" width="1.65" height="1.61" fill="#cde5f8"/>
<rect x="20.52" y="93.22" width="1.65" height="1.61" fill="#cde5f8"/>
<rect x="20.52" y="96.03" width="1.65" height="1.61" fill="#cde5f8"/>
<rect x="20.52" y="98.84" width="1.65" height="1.61" fill="#cde5f8"/>
<rect x="20.52" y="101.65" width="1.65" height="1.61" fill="#cde5f8"/>
<rect x="20.52" y="104.45" width="1.65" height="1.61" fill="#cde5f8"/>
<rect x="20.52" y="107.26" width="1.65" height="1.61" fill="#cde5f8"/>
<rect x="20.52" y="110.07" width="1.65" height="1.61" fill="#cde5f8"/>
<rect x="20.52" y="112.87" width="1.65" height="1.61" fill="#cde5f8"/>
<rect x="20.52" y="115.68" width="1.65" height="1.61" fill="#cde5f8"/>
<rect x="20.52" y="118.49" width="1.65" height="1.61" fill="#cde5f8"/>
<rect x="20.52" y="121.29" width="1.65" height="1.61" fill="#cde5f8"/>
<rect x="23.37" y="0.60" width="1.65" height="1.61" fill="#cde5f8"/>
<rect x="23.37" y="3.41" width="1.65" height="1.61" fill="#cde5f8"/>
<rect x="23.37" y="6.21" width="1.65" height="1.61" fill="#cde5f8"/>
<rect x="23.37" y="9.02" width="1.65" height="1.61" fill="#cde5f8"/>
<rect x="23.37" y="11.83" width="1.65" height="1.61" fill="#cde5f8"/>
<rect x="23.37" y="14.63" width="1.65" height="1.61" fill="#cde5f8"/>
<rect x="23.37" y="17.44" width="1.65" height="1.61" fill="#cde5f8"/>
<rect x="23.37" y="20.25" width="1.65" height="1.61" fill="#cde5f8"/>
<rect x="23.37" y="23.05" width="1.65" height="1.61" fill="#cde5f8"/>
<rect x="23.37" y="25.86" width="1.65" height="1.61" fill="#cde5f8"/>
<rect x="23.37" y="28.67" width="1.65" height="1.61" fill="#cde5f8"/>
<rect x="23.37" y="31.48" width="1.65" height="1.61" fill="#cde5f8"/>
<rect x="23.37" y="34.28" width="1.65" height="1.61" fill="#cde5f8"/>
<rect x="23.37" y="37.09" width="1.65" height="1.61" fill="#cde5f8"/>
<rect x="23.37" y="39.90" width="1.65" height="1.61" fill="#cde5f8"/>
<rect x="23.37" y="42.70" width="1.65" height="1.61" fill="#cde5f8"/>
<rect x="23.37" y="45.51" width="1.65" height="1.61" fill="#cde5f8"/>
<rect x="23.37" y="48.32" width="1.65" height="1.61" fill="#cde5f8"/>
<rect x="23.37" y="51.12" width="1.65" height="1.61" fill="#cde5f8"/>
<rect x="23.37" y="53.93" width="1.65" height="1.61" fill="#cde5f8"/>
<rect x="23.37" y="56.74" width="1.65" height="1.61" fill="#cde5f8"/>
<rect x="23.37" y="59.54" width="1.65" height="1.61" fill="#cde5f8"/>
<rect x="23.37" y="62.35" width="1.65" height="1.61" fill="#cde5f8"/>
<rect x="23.37" y="65.16" width="1.65" height="1.61" fill="#cde5f8"/>
<rect x="23.37" y="67.96" width="1.65" height="1.61" fill="#cde5f8"/>
<rect x="23.37" y="70.77" width="1.65" height="1.61" fill="#cde5f8"/>
<rect x="23.37" y="73.58" width="1.65" height="1.61" fill="#cde5f8"/>
<rect x="23.37" y="76.38" width="1.65" height="1.61" fill="#cde5f8"/>
<rect x="23.37" y="79.19" width="1.65" height="1.61" fill="#cde5f8"/>
<rect x="23.37" y="82.00" width="1.65" height="1.61" fill="#cde5f8"/>
<rect x="23.37" y="84.80" width="1.65" height="1.61" fill="#cde5f8"/>
<rect x="23.37" y="87.61" width="1.65" height="1.61" fill="#cde5f8"/>
<rect x="23.37" y="90.42" width="1.65" height="1.61" fill="#cde5f8"/>
<rect x="23.37" y="93.22" width="1.65" height="1.61" fill="#cde5f8"/>
<rect x="23.37" y="96.03" width="1.65" height="1.61" fill="#cde5f8"/>
<rect x="23.37" y="98.84" width="1.65" height="1.61" fill="#cde5f8"/>
<rect x="23.37" y="101.65" width="1.65" height="1.61" fill="#cde5f8"/>
<rect x="23.37" y="104.45" width="1.65" height="1.61" fill="#cde5f8"/>
<rect x="23.37" y="107.26" width="1.65" height="1.61" fill="#cde5f8"/>
<rect x="23.37" y="110.07" width="1.65" height="1.61" fill="#cde5f8"/>
<rect x="23.37" y="112.87" width="1.65" height="1.61" fill="#cde5f8"/>
<rect x="23.37" y="115.68" width="1.65" height="1.61" fill="#cde5f8"/>
<rect x="23.37" y="118.49" width="1.65" height="1.61" fill="#cde5f8"/>
<rect x="23.37" y="121.29" width="1.65" height="1.61" fill="#cde5f8"/>
<rect x="26.22" y="0.60" width="1.65" height="1.61" fill="#cde5f8"/>
<rect x="26.22" y="3.41" width="1.65" height="1.61" fill="#cde5f8"/>
<rect x="26.22" y="6.21" width="1.65" height="1.61" fill="#cde5f8"/>
<rect x="26.22" y="9.02" width="1.65" height="1.61" fill="#cde5f8"/>
<rect x="26.22" y="11.83" width="1.65" height="1.61" fill="#cde5f8"/>
<rect x="26.22" y="14.63" width="1.65" height="1.61" fill="#cde5f8"/>
<rect x="26.22" y="17.44" width="1.65" height="1.61" fill="#cde5f8"/>
<rect x="26.22" y="20.25" width="1.65" height="1.61" fill="#cde5f8"/>
<rect x="26.22" y="23.05" width="1.65" height="1.61" fill="#cde5f8"/>
<rect x="26.22" y="25.86" width="1.65" height="1.61" fill="#cde5f8"/>
<rect x="26.22" y="28.67" width="1.65" height="1.61" fill="#cde5f8"/>
<rect x="26.22" y="31.48" width="1.65" height="1.61" fill="#cde5f8"/>
<rect x="26.22" y="34.28" width="1.65" height="1.61" fill="#cde5f8"/>
<rect x="26.22" y="37.09" width="1.65" height="1.61" fill="#cde5f8"/>
<rect x="26.22" y="39.90" width="1.65" height="1.61" fill="#cde5f8"/>
<rect x="26.22" y="42.70" width="1.65" height="1.61" fill="#cde5f8"/>
<rect x="26.22" y="45.51" width="1.65" height="1.61" fill="#cde5f8"/>
<rect x="26.22" y="48.32" width="1.65" height="1.61" fill="#cde5f8"/>
<rect x="26.22" y="51.12" width="1.65" height="1.61" fill="#cde5f8"/>
<rect x="26.22" y="53.93" width="1.65" height="1.61" fill="#cde5f8"/>
<rect x="26.22" y="56.74" width="1.65" height="1.61" fill="#cde5f8"/>
<rect x="26.22" y="59.54" width="1.65" height="1.61" fill="#cde5f8"/>
<rect x="26.22" y="62.35" width="1.65" height="1.61" fill="#cde5f8"/>
<rect x="26.22" y="65.16" width="1.65" height="1.61" fill="#cde5f8"/>
<rect x="26.22" y="67.96" width="1.65" height="1.61" fill="#cde5f8"/>
<rect x="26.22" y="70.77" width="1.65" height="1.61" fill="#cde5f8"/>
<rect x="26.22" y="73.58" width="1.65" height="1.61" fill="#cde5f8"/>
<rect x="26.22" y="76.38" width="1.65" height="1.61" fill="#cde5f8"/>
<rect x="26.22" y="79.19" width="1.65" height="1.61" fill="#cde5f8"/>
<rect x="26.22" y="82.00" width="1.65" height="1.61" fill="#cde5f8"/>
<rect x="26.22" y="84.80" width="1.65" height="1.61" fill="#cde5f8"/>
<rect x="26.22" y="87.61" width="1.65" height="1.61" fill="#cde5f8"/>
<rect x="26.22" y="90.42" width="1.65" height="1.61" fill="#cde5f8"/>
<rect x="26.22" y="93.22" width="1.65" height="1.61" fill="#cde5f8"/>
<rect x="26.22" y="96.03" width="1.65" height="1.61" fill="#cde5f8"/>
<rect x="26.22" y="98.84" width="1.65" height="1.61" fill="#cde5f8"/>
<rect x="26.22" y="101.65" width="1.65" height="1.61" fill="#cde5f8"/>
<rect x="26.22" y="104.45" width="1.65" height="1.61" fill="#cde5f8"/>
<rect x="26.22" y="107.26" width="1.65" height="1.61" fill="#cde5f8"/>
<rect x="26.22" y="110.07" width="1.65" height="1.61" fill="#cde5f8"/>
<rect x="26.22" y="112.87" width="1.65" height="1.61" fill="#cde5f8"/>
<rect x="26.22" y="115.68" width="1.65" height="1.61" fill="#cde5f8"/>
<rect x="26.22" y="118.49" width="1.65" height="1.61" fill="#cde5f8"/>
<rect x="26.22" y="121.29" width="1.65" height="1.61" fill="#cde5f8"/>
<rect x="29.06" y="0.60" width="1.65" height="1.61" fill="#cde5f8"/>
<rect x="29.06" y="3.41" width="1.65" height="1.61" fill="#cde5f8"/>
<rect x="29.06" y="6.21" width="1.65" height="1.61" fill="#cde5f8"/>
<rect x="29.06" y="9.02" width="1.65" height="1.61" fill="#cde5f8"/>
<rect x="29.06" y="11.83" width="1.65" height="1.61" fill="#cde5f8"/>
<rect x="29.06" y="14.63" width="1.65" height="1.61" fill="#cde5f8"/>
<rect x="29.06" y="17.44" width="1.65" height="1.61" fill="#cde5f8"/>
<rect x="29.06" y="20.25" width="1.65" height="1.61" fill="#cde5f8"/>
<rect x="29.06" y="23.05" width="1.65" height="1.61" fill="#cde5f8"/>
<rect x="29.06" y="25.86" width="1.65" height="1.61" fill="#cde5f8"/>
<rect x="29.06" y="28.67" width="1.65" height="1.61" fill="#cde5f8"/>
<rect x="29.06" y="31.48" width="1.65" height="1.61" fill="#cde5f8"/>
<rect x="29.06" y="34.28" width="1.65" height="1.61" fill="#cde5f8"/>
<rect x="29.06" y="37.09" width="1.65" height="1.61" fill="#cde5f8"/>
<rect x="29.06" y="39.90" width="1.65" height="1.61" fill="#cde5f8"/>
<rect x="29.06" y="42.70" width="1.65" height="1.61" fill="#cde5f8"/>
<rect x="29.06" y="45.51" width="1.65" height="1.61" fill="#cde5f8"/>
<rect x="29.06" y="48.32" width="1.65" height="1.61" fill="#cde5f8"/>
<rect x="29.06" y="51.12" width="1.65" height="1.61" fill="#cde5f8"/>
<rect x="29.06" y="53.93" width="1.65" height="1.61" fill="#cde5f8"/>
<rect x="29.06" y="56.74" width="1.65" height="1.61" fill="#cde5f8"/>
<rect x="29.06" y="59.54" width="1.65" height="1.61" fill="#cde5f8"/>
<rect x="29.06" y="62.35" width="1.65" height="1.61" fill="#cde5f8"/>
<rect x="29.06" y="65.16" width="1.65" height="1.61" fill="#cde5f8"/>
<rect x="29.06" y="67.96" width="1.65" height="1.61" fill="#cde5f8"/>
<rect x="29.06" y="70.77" width="1.65" height="1.61" fill="#cde5f8"/>
<rect x="29.06" y="73.58" width="1.65" height="1.61" fill="#cde5f8"/>
<rect x="29.06" y="76.38" width="1.65" height="1.61" fill="#cde5f8"/>
<rect x="29.06" y="79.19" width="1.65" height="1.61" fill="#cde5f8"/>
<rect x="29.06" y="82.00" width="1.65" height="1.61" fill="#cde5f8"/>
<rect x="29.06" y="84.80" width="1.65" height="1.61" fill="#cde5f8"/>
<rect x="29.06" y="87.61" width="1.65" height="1.61" fill="#cde5f8"/>
<rect x="29.06" y="90.42" width="1.65" height="1.61" fill="#cde5f8"/>
<rect x="29.06" y="93.22" width="1.65" height="1.61" fill="#cde5f8"/>
<rect x="29.06" y="96.03" width="1.65" height="1.61" fill="#cde5f8"/>
<rect x="29.06" y="98.84" width="1.65" height="1.61" fill="#cde5f8"/>
<rect x="29.06" y="101.65" width="1.65" height="1.61" fill="#cde5f8"/>
<rect x="29.06" y="104.45" width="1.65" height="1.61" fill="#cde5f8"/>
<rect x="29.06" y="107.26" width="1.65" height="1.61" fill="#cde5f8"/>
<rect x="29.06" y="110.07" width="1.65" height="1.61" fill="#cde5f8"/>
<rect x="29.06" y="112.87" width="1.65" height="1.61" fill="#cde5f8"/>
<rect x="29.06" y="115.68" width="1.65" height="1.61" fill="#cde5f8"/>
<rect x="29.06" y="118.49" width="1.65" height="1.61" fill="#cde5f8"/>
<rect x="29.06" y="121.29" width="1.65" height="1.61" fill="#cde5f8"/>
<rect x="31.91" y="0.60" width="1.65" height="1.61" fill="#cde5f8"/>
<rect x="31.91" y="3.41" width="1.65" height="1.61" fill="#cde5f8"/>
<rect x="31.91" y="6.21" width="1.65" height="1.61" fill="#cde5f8"/>
<rect x="31.91" y="9.02" width="1.65" height="1.61" fill="#cde5f8"/>
<rect x="31.91" y="11.83" width="1.65" height="1.61" fill="#cde5f8"/>
<rect x="31.91" y="14.63" width="1.65" height="1.61" fill="#cde5f8"/>
<rect x="31.91" y="17.44" width="1.65" height="1.61" fill="#cde5f8"/>
<rect x="31.91" y="20.25" width="1.65" height="1.61" fill="#cde5f8"/>
<rect x="31.91" y="23.05" width="1.65" height="1.61" fill="#cde5f8"/>
<rect x="31.91" y="25.86" width="1.65" height="1.61" fill="#cde5f8"/>
<rect x="31.91" y="28.67" width="1.65" height="1.61" fill="#cde5f8"/>
<rect x="31.91" y="31.48" width="1.65" height="1.61" fill="#cde5f8"/>
<rect x="31.91" y="34.28" width="1.65" height="1.61" fill="#cde5f8"/>
<rect x="31.91" y="37.09" width="1.65" height="1.61" fill="#cde5f8"/>
<rect x="31.91" y="39.90" width="1.65" height="1.61" fill="#cde5f8"/>
<rect x="31.91" y="42.70" width="1.65" height="1.61" fill="#cde5f8"/>
<rect x="31.91" y="45.51" width="1.65" height="1.61" fill="#cde5f8"/>
<rect x="31.91" y="48.32" width="1.65" height="1.61" fill="#cde5f8"/>
<rect x="31.91" y="51.12" width="1.65" height="1.61" fill="#cde5f8"/>
<rect x="31.91" y="53.93" width="1.65" height="1.61" fill="#cde5f8"/>
<rect x="31.91" y="56.74" width="1.65" height="1.61" fill="#cde5f8"/>
<rect x="31.91" y="59.54" width="1.65" height="1.61" fill="#cde5f8"/>
<rect x="31.91" y="62.35" width="1.65" height="1.61" fill="#cde5f8"/>
<rect x="31.91" y="65.16" width="1.65" height="1.61" fill="#cde5f8"/>
<rect x="31.91" y="67.96" width="1.65" height="1.61" fill="#cde5f8"/>
<rect x="31.91" y="70.77" width="1.65" height="1.61" fill="#cde5f8"/>
<rect x="31.91" y="73.58" width="1.65" height="1.61" fill="#cde5f8"/>
<rect x="31.91" y="76.38" width="1.65" height="1.61" fill="#cde5f8"/>
<rect x="31.91" y="79.19" width="1.65" height="1.61" fill="#cde5f8"/>
<rect x="31.91" y="82.00" width="1.65" height="1.61" fill="#cde5f8"/>
<rect x="31.91" y="84.80" width="1.65" height="1.61" fill="#cde5f8"/>
<rect x="31.91" y="87.61" width="1.65" height="1.61" fill="#cde5f8"/>
<rect x="31.91" y="90.42" width="1.65" height="1.61" fill="#cde5f8"/>
<rect x="31.91" y="93.22" width="1.65" height="1.61" fill="#cde5f8"/>
<rect x="31.91" y="96.03" width="1.65" height="1.61" fill="#cde5f8"/>
<rect x="31.91" y="98.84" width="1.65" height="1.61" fill="#cde5f8"/>
<rect x="31.91" y="101.65" width="1.65" height="1.61" fill="#cde5f8"/>
<rect x="31.91" y="104.45" width="1.65" height="1.61" fill="#cde5f8"/>
<rect x="31.91" y="107.26" width="1.65" height="1.61" fill="#cde5f8"/>
<rect x="31.91" y="110.07" width="1.65" height="1.61" fill="#cde5f8"/>
<rect x="31.91" y="112.87" width="1.65" height="1.61" fill="#cde5f8"/>
<rect x="31.91" y="115.68" width="1.65" height="1.61" fill="#cde5f8"/>
<rect x="31.91" y="118.49" width="1.65" height="1.61" fill="#cde5f8"/>
<rect x="31.91" y="121.29" width="1.65" height="1.61" fill="#cde5f8"/>
<rect x="34.75" y="0.60" width="1.65" height="1.61" fill="#cde5f8"/>
<rect x="34.75" y="3.41" width="1.65" height="1.61" fill="#cde5f8"/>
<rect x="34.75" y="6.21" width="1.65" height="1.61" fill="#cde5f8"/>
<rect x="34.75" y="9.02" width="1.65" height="1.61" fill="#cde5f8"/>
<rect x="34.75" y="11.83" width="1.65" height="1.61" fill="#cde5f8"/>
<rect x="34.75" y="14.63" width="1.65" height="1.61" fill="#cde5f8"/>
<rect x="34.75" y="17.44" width="1.65" height="1.61" fill="#cde5f8"/>
<rect x="34.75" y="20.25" width="1.65" height="1.61" fill="#cde5f8"/>
<rect x="34.75" y="23.05" width="1.65" height="1.61" fill="#cde5f8"/>
<rect x="34.75" y="25.86" width="1.65" height="1.61" fill="#cde5f8"/>
<rect x="34.75" y="28.67" width="1.65" height="1.61" fill="#cde5f8"/>
<rect x="34.75" y="31.48" width="1.65" height="1.61" fill="#cde5f8"/>
<rect x="34.75" y="34.28" width="1.65" height="1.61" fill="#cde5f8"/>
<rect x="34.75" y="37.09" width="1.65" height="1.61" fill="#cde5f8"/>
<rect x="34.75" y="39.90" width="1.65" height="1.61" fill="#cde5f8"/>
<rect x="34.75" y="42.70" width="1.65" height="1.61" fill="#cde5f8"/>
<rect x="34.75" y="45.51" width="1.65" height="1.61" fill="#cde5f8"/>
<rect x="34.75" y="48.32" width="1.65" height="1.61" fill="#cde5f8"/>
<rect x="34.75" y="51.12" width="1.65" height="1.61" fill="#cde5f8"/>
<rect x="34.75" y="53.93" width="1.65" height="1.61" fill="#cde5f8"/>
<rect x="34.75" y="56.74" width="1.65" height="1.61" fill="#cde5f8"/>
<rect x="34.75" y="59.54" width="1.65" height="1.61" fill="#cde5f8"/>
<rect x="34.75" y="62.35" width="1.65" height="1.61" fill="#cde5f8"/>
<rect x="34.75" y="65.16" width="1.65" height="1.61" fill="#cde5f8"/>
<rect x="34.75" y="67.96" width="1.65" height="1.61" fill="#cde5f8"/>
<rect x="34.75" y="70.77" width="1.65" height="1.61" fill="#cde5f8"/>
<rect x="34.75" y="73.58" width="1.65" height="1.61" fill="#cde5f8"/>
<rect x="34.75" y="76.38" width="1.65" height="1.61" fill="#cde5f8"/>
<rect x="34.75" y="79.19" width="1.65" height="1.61" fill="#cde5f8"/>
<rect x="34.75" y="82.00" width="1.65" height="1.61" fill="#cde5f8"/>
<rect x="34.75" y="84.80" width="1.65" height="1.61" fill="#cde5f8"/>
<rect x="34.75" y="87.61" width="1.65" height="1.61" fill="#cde5f8"/>
<rect x="34.75" y="90.42" width="1.65" height="1.61" fill="#cde5f8"/>
<rect x="34.75" y="93.22" width="1.65" height="1.61" fill="#cde5f8"/>
<rect x="34.75" y="96.03" width="1.65" height="1.61" fill="#cde5f8"/>
<rect x="34.75" y="98.84" width="1.65" height="1.61" fill="#cde5f8"/>
<rect x="34.75" y="101.65" width="1.65" height="1.61" fill="#cde5f8"/>
<rect x="34.75" y="104.45" width="1.65" height="1.61" fill="#cde5f8"/>
<rect x="34.75" y="107.26" width="1.65" height="1.61" fill="#cde5f8"/>
<rect x="34.75" y="110.07" width="1.65" height="1.61" fill="#cde5f8"/>
<rect x="34.75" y="112.87" width="1.65" height="1.61" fill="#cde5f8"/>
<rect x="34.75" y="115.68" width="1.65" height="1.61" fill="#cde5f8"/>
<rect x="34.75" y="118.49" width="1.65" height="1.61" fill="#cde5f8"/>
<rect x="34.75" y="121.29" width="1.65" height="1.61" fill="#cde5f8"/>
<rect x="0" y="0" width="37.0" height="123.5" fill="none" stroke="#1f3f60" stroke-width="1.3"/>
<rect x="37.0" y="0" width="1.8" height="123.5" fill="#3d6088" stroke="#1f3f60" stroke-width="0.9"/>
</g>
<g transform="matrix(1,0.506,0,1,83.3,306.6)">
<rect x="0" y="0" width="36.2" height="124.8" fill="#1f4b7a"/>
<rect x="0.60" y="0.60" width="1.58" height="1.64" fill="#cde5f8"/>
<rect x="0.60" y="3.44" width="1.58" height="1.64" fill="#cde5f8"/>
<rect x="0.60" y="6.27" width="1.58" height="1.64" fill="#cde5f8"/>
<rect x="0.60" y="9.11" width="1.58" height="1.64" fill="#cde5f8"/>
<rect x="0.60" y="11.95" width="1.58" height="1.64" fill="#cde5f8"/>
<rect x="0.60" y="14.78" width="1.58" height="1.64" fill="#cde5f8"/>
<rect x="0.60" y="17.62" width="1.58" height="1.64" fill="#cde5f8"/>
<rect x="0.60" y="20.45" width="1.58" height="1.64" fill="#cde5f8"/>
<rect x="0.60" y="23.29" width="1.58" height="1.64" fill="#cde5f8"/>
<rect x="0.60" y="26.13" width="1.58" height="1.64" fill="#cde5f8"/>
<rect x="0.60" y="28.96" width="1.58" height="1.64" fill="#cde5f8"/>
<rect x="0.60" y="31.80" width="1.58" height="1.64" fill="#cde5f8"/>
<rect x="0.60" y="34.64" width="1.58" height="1.64" fill="#cde5f8"/>
<rect x="0.60" y="37.47" width="1.58" height="1.64" fill="#cde5f8"/>
<rect x="0.60" y="40.31" width="1.58" height="1.64" fill="#cde5f8"/>
<rect x="0.60" y="43.15" width="1.58" height="1.64" fill="#cde5f8"/>
<rect x="0.60" y="45.98" width="1.58" height="1.64" fill="#cde5f8"/>
<rect x="0.60" y="48.82" width="1.58" height="1.64" fill="#cde5f8"/>
<rect x="0.60" y="51.65" width="1.58" height="1.64" fill="#cde5f8"/>
<rect x="0.60" y="54.49" width="1.58" height="1.64" fill="#cde5f8"/>
<rect x="0.60" y="57.33" width="1.58" height="1.64" fill="#cde5f8"/>
<rect x="0.60" y="60.16" width="1.58" height="1.64" fill="#cde5f8"/>
<rect x="0.60" y="63.00" width="1.58" height="1.64" fill="#cde5f8"/>
<rect x="0.60" y="65.84" width="1.58" height="1.64" fill="#cde5f8"/>
<rect x="0.60" y="68.67" width="1.58" height="1.64" fill="#cde5f8"/>
<rect x="0.60" y="71.51" width="1.58" height="1.64" fill="#cde5f8"/>
<rect x="0.60" y="74.35" width="1.58" height="1.64" fill="#cde5f8"/>
<rect x="0.60" y="77.18" width="1.58" height="1.64" fill="#cde5f8"/>
<rect x="0.60" y="80.02" width="1.58" height="1.64" fill="#cde5f8"/>
<rect x="0.60" y="82.85" width="1.58" height="1.64" fill="#cde5f8"/>
<rect x="0.60" y="85.69" width="1.58" height="1.64" fill="#cde5f8"/>
<rect x="0.60" y="88.53" width="1.58" height="1.64" fill="#cde5f8"/>
<rect x="0.60" y="91.36" width="1.58" height="1.64" fill="#cde5f8"/>
<rect x="0.60" y="94.20" width="1.58" height="1.64" fill="#cde5f8"/>
<rect x="0.60" y="97.04" width="1.58" height="1.64" fill="#cde5f8"/>
<rect x="0.60" y="99.87" width="1.58" height="1.64" fill="#cde5f8"/>
<rect x="0.60" y="102.71" width="1.58" height="1.64" fill="#cde5f8"/>
<rect x="0.60" y="105.55" width="1.58" height="1.64" fill="#cde5f8"/>
<rect x="0.60" y="108.38" width="1.58" height="1.64" fill="#cde5f8"/>
<rect x="0.60" y="111.22" width="1.58" height="1.64" fill="#cde5f8"/>
<rect x="0.60" y="114.05" width="1.58" height="1.64" fill="#cde5f8"/>
<rect x="0.60" y="116.89" width="1.58" height="1.64" fill="#cde5f8"/>
<rect x="0.60" y="119.73" width="1.58" height="1.64" fill="#cde5f8"/>
<rect x="0.60" y="122.56" width="1.58" height="1.64" fill="#cde5f8"/>
<rect x="3.38" y="0.60" width="1.58" height="1.64" fill="#cde5f8"/>
<rect x="3.38" y="3.44" width="1.58" height="1.64" fill="#cde5f8"/>
<rect x="3.38" y="6.27" width="1.58" height="1.64" fill="#cde5f8"/>
<rect x="3.38" y="9.11" width="1.58" height="1.64" fill="#cde5f8"/>
<rect x="3.38" y="11.95" width="1.58" height="1.64" fill="#cde5f8"/>
<rect x="3.38" y="14.78" width="1.58" height="1.64" fill="#cde5f8"/>
<rect x="3.38" y="17.62" width="1.58" height="1.64" fill="#cde5f8"/>
<rect x="3.38" y="20.45" width="1.58" height="1.64" fill="#cde5f8"/>
<rect x="3.38" y="23.29" width="1.58" height="1.64" fill="#cde5f8"/>
<rect x="3.38" y="26.13" width="1.58" height="1.64" fill="#cde5f8"/>
<rect x="3.38" y="28.96" width="1.58" height="1.64" fill="#cde5f8"/>
<rect x="3.38" y="31.80" width="1.58" height="1.64" fill="#cde5f8"/>
<rect x="3.38" y="34.64" width="1.58" height="1.64" fill="#cde5f8"/>
<rect x="3.38" y="37.47" width="1.58" height="1.64" fill="#cde5f8"/>
<rect x="3.38" y="40.31" width="1.58" height="1.64" fill="#cde5f8"/>
<rect x="3.38" y="43.15" width="1.58" height="1.64" fill="#cde5f8"/>
<rect x="3.38" y="45.98" width="1.58" height="1.64" fill="#cde5f8"/>
<rect x="3.38" y="48.82" width="1.58" height="1.64" fill="#cde5f8"/>
<rect x="3.38" y="51.65" width="1.58" height="1.64" fill="#cde5f8"/>
<rect x="3.38" y="54.49" width="1.58" height="1.64" fill="#cde5f8"/>
<rect x="3.38" y="57.33" width="1.58" height="1.64" fill="#cde5f8"/>
<rect x="3.38" y="60.16" width="1.58" height="1.64" fill="#cde5f8"/>
<rect x="3.38" y="63.00" width="1.58" height="1.64" fill="#cde5f8"/>
<rect x="3.38" y="65.84" width="1.58" height="1.64" fill="#cde5f8"/>
<rect x="3.38" y="68.67" width="1.58" height="1.64" fill="#cde5f8"/>
<rect x="3.38" y="71.51" width="1.58" height="1.64" fill="#cde5f8"/>
<rect x="3.38" y="74.35" width="1.58" height="1.64" fill="#cde5f8"/>
<rect x="3.38" y="77.18" width="1.58" height="1.64" fill="#cde5f8"/>
<rect x="3.38" y="80.02" width="1.58" height="1.64" fill="#cde5f8"/>
<rect x="3.38" y="82.85" width="1.58" height="1.64" fill="#cde5f8"/>
<rect x="3.38" y="85.69" width="1.58" height="1.64" fill="#cde5f8"/>
<rect x="3.38" y="88.53" width="1.58" height="1.64" fill="#cde5f8"/>
<rect x="3.38" y="91.36" width="1.58" height="1.64" fill="#cde5f8"/>
<rect x="3.38" y="94.20" width="1.58" height="1.64" fill="#cde5f8"/>
<rect x="3.38" y="97.04" width="1.58" height="1.64" fill="#cde5f8"/>
<rect x="3.38" y="99.87" width="1.58" height="1.64" fill="#cde5f8"/>
<rect x="3.38" y="102.71" width="1.58" height="1.64" fill="#cde5f8"/>
<rect x="3.38" y="105.55" width="1.58" height="1.64" fill="#cde5f8"/>
<rect x="3.38" y="108.38" width="1.58" height="1.64" fill="#cde5f8"/>
<rect x="3.38" y="111.22" width="1.58" height="1.64" fill="#cde5f8"/>
<rect x="3.38" y="114.05" width="1.58" height="1.64" fill="#cde5f8"/>
<rect x="3.38" y="116.89" width="1.58" height="1.64" fill="#cde5f8"/>
<rect x="3.38" y="119.73" width="1.58" height="1.64" fill="#cde5f8"/>
<rect x="3.38" y="122.56" width="1.58" height="1.64" fill="#cde5f8"/>
<rect x="6.17" y="0.60" width="1.58" height="1.64" fill="#cde5f8"/>
<rect x="6.17" y="3.44" width="1.58" height="1.64" fill="#cde5f8"/>
<rect x="6.17" y="6.27" width="1.58" height="1.64" fill="#cde5f8"/>
<rect x="6.17" y="9.11" width="1.58" height="1.64" fill="#cde5f8"/>
<rect x="6.17" y="11.95" width="1.58" height="1.64" fill="#cde5f8"/>
<rect x="6.17" y="14.78" width="1.58" height="1.64" fill="#cde5f8"/>
<rect x="6.17" y="17.62" width="1.58" height="1.64" fill="#cde5f8"/>
<rect x="6.17" y="20.45" width="1.58" height="1.64" fill="#cde5f8"/>
<rect x="6.17" y="23.29" width="1.58" height="1.64" fill="#cde5f8"/>
<rect x="6.17" y="26.13" width="1.58" height="1.64" fill="#cde5f8"/>
<rect x="6.17" y="28.96" width="1.58" height="1.64" fill="#cde5f8"/>
<rect x="6.17" y="31.80" width="1.58" height="1.64" fill="#cde5f8"/>
<rect x="6.17" y="34.64" width="1.58" height="1.64" fill="#cde5f8"/>
<rect x="6.17" y="37.47" width="1.58" height="1.64" fill="#cde5f8"/>
<rect x="6.17" y="40.31" width="1.58" height="1.64" fill="#cde5f8"/>
<rect x="6.17" y="43.15" width="1.58" height="1.64" fill="#cde5f8"/>
<rect x="6.17" y="45.98" width="1.58" height="1.64" fill="#cde5f8"/>
<rect x="6.17" y="48.82" width="1.58" height="1.64" fill="#cde5f8"/>
<rect x="6.17" y="51.65" width="1.58" height="1.64" fill="#cde5f8"/>
<rect x="6.17" y="54.49" width="1.58" height="1.64" fill="#cde5f8"/>
<rect x="6.17" y="57.33" width="1.58" height="1.64" fill="#cde5f8"/>
<rect x="6.17" y="60.16" width="1.58" height="1.64" fill="#cde5f8"/>
<rect x="6.17" y="63.00" width="1.58" height="1.64" fill="#cde5f8"/>
<rect x="6.17" y="65.84" width="1.58" height="1.64" fill="#cde5f8"/>
<rect x="6.17" y="68.67" width="1.58" height="1.64" fill="#cde5f8"/>
<rect x="6.17" y="71.51" width="1.58" height="1.64" fill="#cde5f8"/>
<rect x="6.17" y="74.35" width="1.58" height="1.64" fill="#cde5f8"/>
<rect x="6.17" y="77.18" width="1.58" height="1.64" fill="#cde5f8"/>
<rect x="6.17" y="80.02" width="1.58" height="1.64" fill="#cde5f8"/>
<rect x="6.17" y="82.85" width="1.58" height="1.64" fill="#cde5f8"/>
<rect x="6.17" y="85.69" width="1.58" height="1.64" fill="#cde5f8"/>
<rect x="6.17" y="88.53" width="1.58" height="1.64" fill="#cde5f8"/>
<rect x="6.17" y="91.36" width="1.58" height="1.64" fill="#cde5f8"/>
<rect x="6.17" y="94.20" width="1.58" height="1.64" fill="#cde5f8"/>
<rect x="6.17" y="97.04" width="1.58" height="1.64" fill="#cde5f8"/>
<rect x="6.17" y="99.87" width="1.58" height="1.64" fill="#cde5f8"/>
<rect x="6.17" y="102.71" width="1.58" height="1.64" fill="#cde5f8"/>
<rect x="6.17" y="105.55" width="1.58" height="1.64" fill="#cde5f8"/>
<rect x="6.17" y="108.38" width="1.58" height="1.64" fill="#cde5f8"/>
<rect x="6.17" y="111.22" width="1.58" height="1.64" fill="#cde5f8"/>
<rect x="6.17" y="114.05" width="1.58" height="1.64" fill="#cde5f8"/>
<rect x="6.17" y="116.89" width="1.58" height="1.64" fill="#cde5f8"/>
<rect x="6.17" y="119.73" width="1.58" height="1.64" fill="#cde5f8"/>
<rect x="6.17" y="122.56" width="1.58" height="1.64" fill="#cde5f8"/>
<rect x="8.95" y="0.60" width="1.58" height="1.64" fill="#cde5f8"/>
<rect x="8.95" y="3.44" width="1.58" height="1.64" fill="#cde5f8"/>
<rect x="8.95" y="6.27" width="1.58" height="1.64" fill="#cde5f8"/>
<rect x="8.95" y="9.11" width="1.58" height="1.64" fill="#cde5f8"/>
<rect x="8.95" y="11.95" width="1.58" height="1.64" fill="#cde5f8"/>
<rect x="8.95" y="14.78" width="1.58" height="1.64" fill="#cde5f8"/>
<rect x="8.95" y="17.62" width="1.58" height="1.64" fill="#cde5f8"/>
<rect x="8.95" y="20.45" width="1.58" height="1.64" fill="#cde5f8"/>
<rect x="8.95" y="23.29" width="1.58" height="1.64" fill="#cde5f8"/>
<rect x="8.95" y="26.13" width="1.58" height="1.64" fill="#cde5f8"/>
<rect x="8.95" y="28.96" width="1.58" height="1.64" fill="#cde5f8"/>
<rect x="8.95" y="31.80" width="1.58" height="1.64" fill="#cde5f8"/>
<rect x="8.95" y="34.64" width="1.58" height="1.64" fill="#cde5f8"/>
<rect x="8.95" y="37.47" width="1.58" height="1.64" fill="#cde5f8"/>
<rect x="8.95" y="40.31" width="1.58" height="1.64" fill="#cde5f8"/>
<rect x="8.95" y="43.15" width="1.58" height="1.64" fill="#cde5f8"/>
<rect x="8.95" y="45.98" width="1.58" height="1.64" fill="#cde5f8"/>
<rect x="8.95" y="48.82" width="1.58" height="1.64" fill="#cde5f8"/>
<rect x="8.95" y="51.65" width="1.58" height="1.64" fill="#cde5f8"/>
<rect x="8.95" y="54.49" width="1.58" height="1.64" fill="#cde5f8"/>
<rect x="8.95" y="57.33" width="1.58" height="1.64" fill="#cde5f8"/>
<rect x="8.95" y="60.16" width="1.58" height="1.64" fill="#cde5f8"/>
<rect x="8.95" y="63.00" width="1.58" height="1.64" fill="#cde5f8"/>
<rect x="8.95" y="65.84" width="1.58" height="1.64" fill="#cde5f8"/>
<rect x="8.95" y="68.67" width="1.58" height="1.64" fill="#cde5f8"/>
<rect x="8.95" y="71.51" width="1.58" height="1.64" fill="#cde5f8"/>
<rect x="8.95" y="74.35" width="1.58" height="1.64" fill="#cde5f8"/>
<rect x="8.95" y="77.18" width="1.58" height="1.64" fill="#cde5f8"/>
<rect x="8.95" y="80.02" width="1.58" height="1.64" fill="#cde5f8"/>
<rect x="8.95" y="82.85" width="1.58" height="1.64" fill="#cde5f8"/>
<rect x="8.95" y="85.69" width="1.58" height="1.64" fill="#cde5f8"/>
<rect x="8.95" y="88.53" width="1.58" height="1.64" fill="#cde5f8"/>
<rect x="8.95" y="91.36" width="1.58" height="1.64" fill="#cde5f8"/>
<rect x="8.95" y="94.20" width="1.58" height="1.64" fill="#cde5f8"/>
<rect x="8.95" y="97.04" width="1.58" height="1.64" fill="#cde5f8"/>
<rect x="8.95" y="99.87" width="1.58" height="1.64" fill="#cde5f8"/>
<rect x="8.95" y="102.71" width="1.58" height="1.64" fill="#cde5f8"/>
<rect x="8.95" y="105.55" width="1.58" height="1.64" fill="#cde5f8"/>
<rect x="8.95" y="108.38" width="1.58" height="1.64" fill="#cde5f8"/>
<rect x="8.95" y="111.22" width="1.58" height="1.64" fill="#cde5f8"/>
<rect x="8.95" y="114.05" width="1.58" height="1.64" fill="#cde5f8"/>
<rect x="8.95" y="116.89" width="1.58" height="1.64" fill="#cde5f8"/>
<rect x="8.95" y="119.73" width="1.58" height="1.64" fill="#cde5f8"/>
<rect x="8.95" y="122.56" width="1.58" height="1.64" fill="#cde5f8"/>
<rect x="11.74" y="0.60" width="1.58" height="1.64" fill="#cde5f8"/>
<rect x="11.74" y="3.44" width="1.58" height="1.64" fill="#cde5f8"/>
<rect x="11.74" y="6.27" width="1.58" height="1.64" fill="#cde5f8"/>
<rect x="11.74" y="9.11" width="1.58" height="1.64" fill="#cde5f8"/>
<rect x="11.74" y="11.95" width="1.58" height="1.64" fill="#cde5f8"/>
<rect x="11.74" y="14.78" width="1.58" height="1.64" fill="#cde5f8"/>
<rect x="11.74" y="17.62" width="1.58" height="1.64" fill="#cde5f8"/>
<rect x="11.74" y="20.45" width="1.58" height="1.64" fill="#cde5f8"/>
<rect x="11.74" y="23.29" width="1.58" height="1.64" fill="#cde5f8"/>
<rect x="11.74" y="26.13" width="1.58" height="1.64" fill="#cde5f8"/>
<rect x="11.74" y="28.96" width="1.58" height="1.64" fill="#cde5f8"/>
<rect x="11.74" y="31.80" width="1.58" height="1.64" fill="#cde5f8"/>
<rect x="11.74" y="34.64" width="1.58" height="1.64" fill="#cde5f8"/>
<rect x="11.74" y="37.47" width="1.58" height="1.64" fill="#cde5f8"/>
<rect x="11.74" y="40.31" width="1.58" height="1.64" fill="#cde5f8"/>
<rect x="11.74" y="43.15" width="1.58" height="1.64" fill="#cde5f8"/>
<rect x="11.74" y="45.98" width="1.58" height="1.64" fill="#cde5f8"/>
<rect x="11.74" y="48.82" width="1.58" height="1.64" fill="#cde5f8"/>
<rect x="11.74" y="51.65" width="1.58" height="1.64" fill="#cde5f8"/>
<rect x="11.74" y="54.49" width="1.58" height="1.64" fill="#cde5f8"/>
<rect x="11.74" y="57.33" width="1.58" height="1.64" fill="#cde5f8"/>
<rect x="11.74" y="60.16" width="1.58" height="1.64" fill="#cde5f8"/>
<rect x="11.74" y="63.00" width="1.58" height="1.64" fill="#cde5f8"/>
<rect x="11.74" y="65.84" width="1.58" height="1.64" fill="#cde5f8"/>
<rect x="11.74" y="68.67" width="1.58" height="1.64" fill="#cde5f8"/>
<rect x="11.74" y="71.51" width="1.58" height="1.64" fill="#cde5f8"/>
<rect x="11.74" y="74.35" width="1.58" height="1.64" fill="#cde5f8"/>
<rect x="11.74" y="77.18" width="1.58" height="1.64" fill="#cde5f8"/>
<rect x="11.74" y="80.02" width="1.58" height="1.64" fill="#cde5f8"/>
<rect x="11.74" y="82.85" width="1.58" height="1.64" fill="#cde5f8"/>
<rect x="11.74" y="85.69" width="1.58" height="1.64" fill="#cde5f8"/>
<rect x="11.74" y="88.53" width="1.58" height="1.64" fill="#cde5f8"/>
<rect x="11.74" y="91.36" width="1.58" height="1.64" fill="#cde5f8"/>
<rect x="11.74" y="94.20" width="1.58" height="1.64" fill="#cde5f8"/>
<rect x="11.74" y="97.04" width="1.58" height="1.64" fill="#cde5f8"/>
<rect x="11.74" y="99.87" width="1.58" height="1.64" fill="#cde5f8"/>
<rect x="11.74" y="102.71" width="1.58" height="1.64" fill="#cde5f8"/>
<rect x="11.74" y="105.55" width="1.58" height="1.64" fill="#cde5f8"/>
<rect x="11.74" y="108.38" width="1.58" height="1.64" fill="#cde5f8"/>
<rect x="11.74" y="111.22" width="1.58" height="1.64" fill="#cde5f8"/>
<rect x="11.74" y="114.05" width="1.58" height="1.64" fill="#cde5f8"/>
<rect x="11.74" y="116.89" width="1.58" height="1.64" fill="#cde5f8"/>
<rect x="11.74" y="119.73" width="1.58" height="1.64" fill="#cde5f8"/>
<rect x="11.74" y="122.56" width="1.58" height="1.64" fill="#cde5f8"/>
<rect x="14.52" y="0.60" width="1.58" height="1.64" fill="#cde5f8"/>
<rect x="14.52" y="3.44" width="1.58" height="1.64" fill="#cde5f8"/>
<rect x="14.52" y="6.27" width="1.58" height="1.64" fill="#cde5f8"/>
<rect x="14.52" y="9.11" width="1.58" height="1.64" fill="#cde5f8"/>
<rect x="14.52" y="11.95" width="1.58" height="1.64" fill="#cde5f8"/>
<rect x="14.52" y="14.78" width="1.58" height="1.64" fill="#cde5f8"/>
<rect x="14.52" y="17.62" width="1.58" height="1.64" fill="#cde5f8"/>
<rect x="14.52" y="20.45" width="1.58" height="1.64" fill="#cde5f8"/>
<rect x="14.52" y="23.29" width="1.58" height="1.64" fill="#cde5f8"/>
<rect x="14.52" y="26.13" width="1.58" height="1.64" fill="#cde5f8"/>
<rect x="14.52" y="28.96" width="1.58" height="1.64" fill="#cde5f8"/>
<rect x="14.52" y="31.80" width="1.58" height="1.64" fill="#cde5f8"/>
<rect x="14.52" y="34.64" width="1.58" height="1.64" fill="#cde5f8"/>
<rect x="14.52" y="37.47" width="1.58" height="1.64" fill="#cde5f8"/>
<rect x="14.52" y="40.31" width="1.58" height="1.64" fill="#cde5f8"/>
<rect x="14.52" y="43.15" width="1.58" height="1.64" fill="#cde5f8"/>
<rect x="14.52" y="45.98" width="1.58" height="1.64" fill="#cde5f8"/>
<rect x="14.52" y="48.82" width="1.58" height="1.64" fill="#cde5f8"/>
<rect x="14.52" y="51.65" width="1.58" height="1.64" fill="#cde5f8"/>
<rect x="14.52" y="54.49" width="1.58" height="1.64" fill="#cde5f8"/>
<rect x="14.52" y="57.33" width="1.58" height="1.64" fill="#cde5f8"/>
<rect x="14.52" y="60.16" width="1.58" height="1.64" fill="#cde5f8"/>
<rect x="14.52" y="63.00" width="1.58" height="1.64" fill="#cde5f8"/>
<rect x="14.52" y="65.84" width="1.58" height="1.64" fill="#cde5f8"/>
<rect x="14.52" y="68.67" width="1.58" height="1.64" fill="#cde5f8"/>
<rect x="14.52" y="71.51" width="1.58" height="1.64" fill="#cde5f8"/>
<rect x="14.52" y="74.35" width="1.58" height="1.64" fill="#cde5f8"/>
<rect x="14.52" y="77.18" width="1.58" height="1.64" fill="#cde5f8"/>
<rect x="14.52" y="80.02" width="1.58" height="1.64" fill="#cde5f8"/>
<rect x="14.52" y="82.85" width="1.58" height="1.64" fill="#cde5f8"/>
<rect x="14.52" y="85.69" width="1.58" height="1.64" fill="#cde5f8"/>
<rect x="14.52" y="88.53" width="1.58" height="1.64" fill="#cde5f8"/>
<rect x="14.52" y="91.36" width="1.58" height="1.64" fill="#cde5f8"/>
<rect x="14.52" y="94.20" width="1.58" height="1.64" fill="#cde5f8"/>
<rect x="14.52" y="97.04" width="1.58" height="1.64" fill="#cde5f8"/>
<rect x="14.52" y="99.87" width="1.58" height="1.64" fill="#cde5f8"/>
<rect x="14.52" y="102.71" width="1.58" height="1.64" fill="#cde5f8"/>
<rect x="14.52" y="105.55" width="1.58" height="1.64" fill="#cde5f8"/>
<rect x="14.52" y="108.38" width="1.58" height="1.64" fill="#cde5f8"/>
<rect x="14.52" y="111.22" width="1.58" height="1.64" fill="#cde5f8"/>
<rect x="14.52" y="114.05" width="1.58" height="1.64" fill="#cde5f8"/>
<rect x="14.52" y="116.89" width="1.58" height="1.64" fill="#cde5f8"/>
<rect x="14.52" y="119.73" width="1.58" height="1.64" fill="#cde5f8"/>
<rect x="14.52" y="122.56" width="1.58" height="1.64" fill="#cde5f8"/>
<rect x="17.31" y="0.60" width="1.58" height="1.64" fill="#cde5f8"/>
<rect x="17.31" y="3.44" width="1.58" height="1.64" fill="#cde5f8"/>
<rect x="17.31" y="6.27" width="1.58" height="1.64" fill="#cde5f8"/>
<rect x="17.31" y="9.11" width="1.58" height="1.64" fill="#cde5f8"/>
<rect x="17.31" y="11.95" width="1.58" height="1.64" fill="#cde5f8"/>
<rect x="17.31" y="14.78" width="1.58" height="1.64" fill="#cde5f8"/>
<rect x="17.31" y="17.62" width="1.58" height="1.64" fill="#cde5f8"/>
<rect x="17.31" y="20.45" width="1.58" height="1.64" fill="#cde5f8"/>
<rect x="17.31" y="23.29" width="1.58" height="1.64" fill="#cde5f8"/>
<rect x="17.31" y="26.13" width="1.58" height="1.64" fill="#cde5f8"/>
<rect x="17.31" y="28.96" width="1.58" height="1.64" fill="#cde5f8"/>
<rect x="17.31" y="31.80" width="1.58" height="1.64" fill="#cde5f8"/>
<rect x="17.31" y="34.64" width="1.58" height="1.64" fill="#cde5f8"/>
<rect x="17.31" y="37.47" width="1.58" height="1.64" fill="#cde5f8"/>
<rect x="17.31" y="40.31" width="1.58" height="1.64" fill="#cde5f8"/>
<rect x="17.31" y="43.15" width="1.58" height="1.64" fill="#cde5f8"/>
<rect x="17.31" y="45.98" width="1.58" height="1.64" fill="#cde5f8"/>
<rect x="17.31" y="48.82" width="1.58" height="1.64" fill="#cde5f8"/>
<rect x="17.31" y="51.65" width="1.58" height="1.64" fill="#cde5f8"/>
<rect x="17.31" y="54.49" width="1.58" height="1.64" fill="#cde5f8"/>
<rect x="17.31" y="57.33" width="1.58" height="1.64" fill="#cde5f8"/>
<rect x="17.31" y="60.16" width="1.58" height="1.64" fill="#cde5f8"/>
<rect x="17.31" y="63.00" width="1.58" height="1.64" fill="#cde5f8"/>
<rect x="17.31" y="65.84" width="1.58" height="1.64" fill="#cde5f8"/>
<rect x="17.31" y="68.67" width="1.58" height="1.64" fill="#cde5f8"/>
<rect x="17.31" y="71.51" width="1.58" height="1.64" fill="#cde5f8"/>
<rect x="17.31" y="74.35" width="1.58" height="1.64" fill="#cde5f8"/>
<rect x="17.31" y="77.18" width="1.58" height="1.64" fill="#cde5f8"/>
<rect x="17.31" y="80.02" width="1.58" height="1.64" fill="#cde5f8"/>
<rect x="17.31" y="82.85" width="1.58" height="1.64" fill="#cde5f8"/>
<rect x="17.31" y="85.69" width="1.58" height="1.64" fill="#cde5f8"/>
<rect x="17.31" y="88.53" width="1.58" height="1.64" fill="#cde5f8"/>
<rect x="17.31" y="91.36" width="1.58" height="1.64" fill="#cde5f8"/>
<rect x="17.31" y="94.20" width="1.58" height="1.64" fill="#cde5f8"/>
<rect x="17.31" y="97.04" width="1.58" height="1.64" fill="#cde5f8"/>
<rect x="17.31" y="99.87" width="1.58" height="1.64" fill="#cde5f8"/>
<rect x="17.31" y="102.71" width="1.58" height="1.64" fill="#cde5f8"/>
<rect x="17.31" y="105.55" width="1.58" height="1.64" fill="#cde5f8"/>
<rect x="17.31" y="108.38" width="1.58" height="1.64" fill="#cde5f8"/>
<rect x="17.31" y="111.22" width="1.58" height="1.64" fill="#cde5f8"/>
<rect x="17.31" y="114.05" width="1.58" height="1.64" fill="#cde5f8"/>
<rect x="17.31" y="116.89" width="1.58" height="1.64" fill="#cde5f8"/>
<rect x="17.31" y="119.73" width="1.58" height="1.64" fill="#cde5f8"/>
<rect x="17.31" y="122.56" width="1.58" height="1.64" fill="#cde5f8"/>
<rect x="20.09" y="0.60" width="1.58" height="1.64" fill="#cde5f8"/>
<rect x="20.09" y="3.44" width="1.58" height="1.64" fill="#cde5f8"/>
<rect x="20.09" y="6.27" width="1.58" height="1.64" fill="#cde5f8"/>
<rect x="20.09" y="9.11" width="1.58" height="1.64" fill="#cde5f8"/>
<rect x="20.09" y="11.95" width="1.58" height="1.64" fill="#cde5f8"/>
<rect x="20.09" y="14.78" width="1.58" height="1.64" fill="#cde5f8"/>
<rect x="20.09" y="17.62" width="1.58" height="1.64" fill="#cde5f8"/>
<rect x="20.09" y="20.45" width="1.58" height="1.64" fill="#cde5f8"/>
<rect x="20.09" y="23.29" width="1.58" height="1.64" fill="#cde5f8"/>
<rect x="20.09" y="26.13" width="1.58" height="1.64" fill="#cde5f8"/>
<rect x="20.09" y="28.96" width="1.58" height="1.64" fill="#cde5f8"/>
<rect x="20.09" y="31.80" width="1.58" height="1.64" fill="#cde5f8"/>
<rect x="20.09" y="34.64" width="1.58" height="1.64" fill="#cde5f8"/>
<rect x="20.09" y="37.47" width="1.58" height="1.64" fill="#cde5f8"/>
<rect x="20.09" y="40.31" width="1.58" height="1.64" fill="#cde5f8"/>
<rect x="20.09" y="43.15" width="1.58" height="1.64" fill="#cde5f8"/>
<rect x="20.09" y="45.98" width="1.58" height="1.64" fill="#cde5f8"/>
<rect x="20.09" y="48.82" width="1.58" height="1.64" fill="#cde5f8"/>
<rect x="20.09" y="51.65" width="1.58" height="1.64" fill="#cde5f8"/>
<rect x="20.09" y="54.49" width="1.58" height="1.64" fill="#cde5f8"/>
<rect x="20.09" y="57.33" width="1.58" height="1.64" fill="#cde5f8"/>
<rect x="20.09" y="60.16" width="1.58" height="1.64" fill="#cde5f8"/>
<rect x="20.09" y="63.00" width="1.58" height="1.64" fill="#cde5f8"/>
<rect x="20.09" y="65.84" width="1.58" height="1.64" fill="#cde5f8"/>
<rect x="20.09" y="68.67" width="1.58" height="1.64" fill="#cde5f8"/>
<rect x="20.09" y="71.51" width="1.58" height="1.64" fill="#cde5f8"/>
<rect x="20.09" y="74.35" width="1.58" height="1.64" fill="#cde5f8"/>
<rect x="20.09" y="77.18" width="1.58" height="1.64" fill="#cde5f8"/>
<rect x="20.09" y="80.02" width="1.58" height="1.64" fill="#cde5f8"/>
<rect x="20.09" y="82.85" width="1.58" height="1.64" fill="#cde5f8"/>
<rect x="20.09" y="85.69" width="1.58" height="1.64" fill="#cde5f8"/>
<rect x="20.09" y="88.53" width="1.58" height="1.64" fill="#cde5f8"/>
<rect x="20.09" y="91.36" width="1.58" height="1.64" fill="#cde5f8"/>
<rect x="20.09" y="94.20" width="1.58" height="1.64" fill="#cde5f8"/>
<rect x="20.09" y="97.04" width="1.58" height="1.64" fill="#cde5f8"/>
<rect x="20.09" y="99.87" width="1.58" height="1.64" fill="#cde5f8"/>
<rect x="20.09" y="102.71" width="1.58" height="1.64" fill="#cde5f8"/>
<rect x="20.09" y="105.55" width="1.58" height="1.64" fill="#cde5f8"/>
<rect x="20.09" y="108.38" width="1.58" height="1.64" fill="#cde5f8"/>
<rect x="20.09" y="111.22" width="1.58" height="1.64" fill="#cde5f8"/>
<rect x="20.09" y="114.05" width="1.58" height="1.64" fill="#cde5f8"/>
<rect x="20.09" y="116.89" width="1.58" height="1.64" fill="#cde5f8"/>
<rect x="20.09" y="119.73" width="1.58" height="1.64" fill="#cde5f8"/>
<rect x="20.09" y="122.56" width="1.58" height="1.64" fill="#cde5f8"/>
<rect x="22.88" y="0.60" width="1.58" height="1.64" fill="#cde5f8"/>
<rect x="22.88" y="3.44" width="1.58" height="1.64" fill="#cde5f8"/>
<rect x="22.88" y="6.27" width="1.58" height="1.64" fill="#cde5f8"/>
<rect x="22.88" y="9.11" width="1.58" height="1.64" fill="#cde5f8"/>
<rect x="22.88" y="11.95" width="1.58" height="1.64" fill="#cde5f8"/>
<rect x="22.88" y="14.78" width="1.58" height="1.64" fill="#cde5f8"/>
<rect x="22.88" y="17.62" width="1.58" height="1.64" fill="#cde5f8"/>
<rect x="22.88" y="20.45" width="1.58" height="1.64" fill="#cde5f8"/>
<rect x="22.88" y="23.29" width="1.58" height="1.64" fill="#cde5f8"/>
<rect x="22.88" y="26.13" width="1.58" height="1.64" fill="#cde5f8"/>
<rect x="22.88" y="28.96" width="1.58" height="1.64" fill="#cde5f8"/>
<rect x="22.88" y="31.80" width="1.58" height="1.64" fill="#cde5f8"/>
<rect x="22.88" y="34.64" width="1.58" height="1.64" fill="#cde5f8"/>
<rect x="22.88" y="37.47" width="1.58" height="1.64" fill="#cde5f8"/>
<rect x="22.88" y="40.31" width="1.58" height="1.64" fill="#cde5f8"/>
<rect x="22.88" y="43.15" width="1.58" height="1.64" fill="#cde5f8"/>
<rect x="22.88" y="45.98" width="1.58" height="1.64" fill="#cde5f8"/>
<rect x="22.88" y="48.82" width="1.58" height="1.64" fill="#cde5f8"/>
<rect x="22.88" y="51.65" width="1.58" height="1.64" fill="#cde5f8"/>
<rect x="22.88" y="54.49" width="1.58" height="1.64" fill="#cde5f8"/>
<rect x="22.88" y="57.33" width="1.58" height="1.64" fill="#cde5f8"/>
<rect x="22.88" y="60.16" width="1.58" height="1.64" fill="#cde5f8"/>
<rect x="22.88" y="63.00" width="1.58" height="1.64" fill="#cde5f8"/>
<rect x="22.88" y="65.84" width="1.58" height="1.64" fill="#cde5f8"/>
<rect x="22.88" y="68.67" width="1.58" height="1.64" fill="#cde5f8"/>
<rect x="22.88" y="71.51" width="1.58" height="1.64" fill="#cde5f8"/>
<rect x="22.88" y="74.35" width="1.58" height="1.64" fill="#cde5f8"/>
<rect x="22.88" y="77.18" width="1.58" height="1.64" fill="#cde5f8"/>
<rect x="22.88" y="80.02" width="1.58" height="1.64" fill="#cde5f8"/>
<rect x="22.88" y="82.85" width="1.58" height="1.64" fill="#cde5f8"/>
<rect x="22.88" y="85.69" width="1.58" height="1.64" fill="#cde5f8"/>
<rect x="22.88" y="88.53" width="1.58" height="1.64" fill="#cde5f8"/>
<rect x="22.88" y="91.36" width="1.58" height="1.64" fill="#cde5f8"/>
<rect x="22.88" y="94.20" width="1.58" height="1.64" fill="#cde5f8"/>
<rect x="22.88" y="97.04" width="1.58" height="1.64" fill="#cde5f8"/>
<rect x="22.88" y="99.87" width="1.58" height="1.64" fill="#cde5f8"/>
<rect x="22.88" y="102.71" width="1.58" height="1.64" fill="#cde5f8"/>
<rect x="22.88" y="105.55" width="1.58" height="1.64" fill="#cde5f8"/>
<rect x="22.88" y="108.38" width="1.58" height="1.64" fill="#cde5f8"/>
<rect x="22.88" y="111.22" width="1.58" height="1.64" fill="#cde5f8"/>
<rect x="22.88" y="114.05" width="1.58" height="1.64" fill="#cde5f8"/>
<rect x="22.88" y="116.89" width="1.58" height="1.64" fill="#cde5f8"/>
<rect x="22.88" y="119.73" width="1.58" height="1.64" fill="#cde5f8"/>
<rect x="22.88" y="122.56" width="1.58" height="1.64" fill="#cde5f8"/>
<rect x="25.66" y="0.60" width="1.58" height="1.64" fill="#cde5f8"/>
<rect x="25.66" y="3.44" width="1.58" height="1.64" fill="#cde5f8"/>
<rect x="25.66" y="6.27" width="1.58" height="1.64" fill="#cde5f8"/>
<rect x="25.66" y="9.11" width="1.58" height="1.64" fill="#cde5f8"/>
<rect x="25.66" y="11.95" width="1.58" height="1.64" fill="#cde5f8"/>
<rect x="25.66" y="14.78" width="1.58" height="1.64" fill="#cde5f8"/>
<rect x="25.66" y="17.62" width="1.58" height="1.64" fill="#cde5f8"/>
<rect x="25.66" y="20.45" width="1.58" height="1.64" fill="#cde5f8"/>
<rect x="25.66" y="23.29" width="1.58" height="1.64" fill="#cde5f8"/>
<rect x="25.66" y="26.13" width="1.58" height="1.64" fill="#cde5f8"/>
<rect x="25.66" y="28.96" width="1.58" height="1.64" fill="#cde5f8"/>
<rect x="25.66" y="31.80" width="1.58" height="1.64" fill="#cde5f8"/>
<rect x="25.66" y="34.64" width="1.58" height="1.64" fill="#cde5f8"/>
<rect x="25.66" y="37.47" width="1.58" height="1.64" fill="#cde5f8"/>
<rect x="25.66" y="40.31" width="1.58" height="1.64" fill="#cde5f8"/>
<rect x="25.66" y="43.15" width="1.58" height="1.64" fill="#cde5f8"/>
<rect x="25.66" y="45.98" width="1.58" height="1.64" fill="#cde5f8"/>
<rect x="25.66" y="48.82" width="1.58" height="1.64" fill="#cde5f8"/>
<rect x="25.66" y="51.65" width="1.58" height="1.64" fill="#cde5f8"/>
<rect x="25.66" y="54.49" width="1.58" height="1.64" fill="#cde5f8"/>
<rect x="25.66" y="57.33" width="1.58" height="1.64" fill="#cde5f8"/>
<rect x="25.66" y="60.16" width="1.58" height="1.64" fill="#cde5f8"/>
<rect x="25.66" y="63.00" width="1.58" height="1.64" fill="#cde5f8"/>
<rect x="25.66" y="65.84" width="1.58" height="1.64" fill="#cde5f8"/>
<rect x="25.66" y="68.67" width="1.58" height="1.64" fill="#cde5f8"/>
<rect x="25.66" y="71.51" width="1.58" height="1.64" fill="#cde5f8"/>
<rect x="25.66" y="74.35" width="1.58" height="1.64" fill="#cde5f8"/>
<rect x="25.66" y="77.18" width="1.58" height="1.64" fill="#cde5f8"/>
<rect x="25.66" y="80.02" width="1.58" height="1.64" fill="#cde5f8"/>
<rect x="25.66" y="82.85" width="1.58" height="1.64" fill="#cde5f8"/>
<rect x="25.66" y="85.69" width="1.58" height="1.64" fill="#cde5f8"/>
<rect x="25.66" y="88.53" width="1.58" height="1.64" fill="#cde5f8"/>
<rect x="25.66" y="91.36" width="1.58" height="1.64" fill="#cde5f8"/>
<rect x="25.66" y="94.20" width="1.58" height="1.64" fill="#cde5f8"/>
<rect x="25.66" y="97.04" width="1.58" height="1.64" fill="#cde5f8"/>
<rect x="25.66" y="99.87" width="1.58" height="1.64" fill="#cde5f8"/>
<rect x="25.66" y="102.71" width="1.58" height="1.64" fill="#cde5f8"/>
<rect x="25.66" y="105.55" width="1.58" height="1.64" fill="#cde5f8"/>
<rect x="25.66" y="108.38" width="1.58" height="1.64" fill="#cde5f8"/>
<rect x="25.66" y="111.22" width="1.58" height="1.64" fill="#cde5f8"/>
<rect x="25.66" y="114.05" width="1.58" height="1.64" fill="#cde5f8"/>
<rect x="25.66" y="116.89" width="1.58" height="1.64" fill="#cde5f8"/>
<rect x="25.66" y="119.73" width="1.58" height="1.64" fill="#cde5f8"/>
<rect x="25.66" y="122.56" width="1.58" height="1.64" fill="#cde5f8"/>
<rect x="28.45" y="0.60" width="1.58" height="1.64" fill="#cde5f8"/>
<rect x="28.45" y="3.44" width="1.58" height="1.64" fill="#cde5f8"/>
<rect x="28.45" y="6.27" width="1.58" height="1.64" fill="#cde5f8"/>
<rect x="28.45" y="9.11" width="1.58" height="1.64" fill="#cde5f8"/>
<rect x="28.45" y="11.95" width="1.58" height="1.64" fill="#cde5f8"/>
<rect x="28.45" y="14.78" width="1.58" height="1.64" fill="#cde5f8"/>
<rect x="28.45" y="17.62" width="1.58" height="1.64" fill="#cde5f8"/>
<rect x="28.45" y="20.45" width="1.58" height="1.64" fill="#cde5f8"/>
<rect x="28.45" y="23.29" width="1.58" height="1.64" fill="#cde5f8"/>
<rect x="28.45" y="26.13" width="1.58" height="1.64" fill="#cde5f8"/>
<rect x="28.45" y="28.96" width="1.58" height="1.64" fill="#cde5f8"/>
<rect x="28.45" y="31.80" width="1.58" height="1.64" fill="#cde5f8"/>
<rect x="28.45" y="34.64" width="1.58" height="1.64" fill="#cde5f8"/>
<rect x="28.45" y="37.47" width="1.58" height="1.64" fill="#cde5f8"/>
<rect x="28.45" y="40.31" width="1.58" height="1.64" fill="#cde5f8"/>
<rect x="28.45" y="43.15" width="1.58" height="1.64" fill="#cde5f8"/>
<rect x="28.45" y="45.98" width="1.58" height="1.64" fill="#cde5f8"/>
<rect x="28.45" y="48.82" width="1.58" height="1.64" fill="#cde5f8"/>
<rect x="28.45" y="51.65" width="1.58" height="1.64" fill="#cde5f8"/>
<rect x="28.45" y="54.49" width="1.58" height="1.64" fill="#cde5f8"/>
<rect x="28.45" y="57.33" width="1.58" height="1.64" fill="#cde5f8"/>
<rect x="28.45" y="60.16" width="1.58" height="1.64" fill="#cde5f8"/>
<rect x="28.45" y="63.00" width="1.58" height="1.64" fill="#cde5f8"/>
<rect x="28.45" y="65.84" width="1.58" height="1.64" fill="#cde5f8"/>
<rect x="28.45" y="68.67" width="1.58" height="1.64" fill="#cde5f8"/>
<rect x="28.45" y="71.51" width="1.58" height="1.64" fill="#cde5f8"/>
<rect x="28.45" y="74.35" width="1.58" height="1.64" fill="#cde5f8"/>
<rect x="28.45" y="77.18" width="1.58" height="1.64" fill="#cde5f8"/>
<rect x="28.45" y="80.02" width="1.58" height="1.64" fill="#cde5f8"/>
<rect x="28.45" y="82.85" width="1.58" height="1.64" fill="#cde5f8"/>
<rect x="28.45" y="85.69" width="1.58" height="1.64" fill="#cde5f8"/>
<rect x="28.45" y="88.53" width="1.58" height="1.64" fill="#cde5f8"/>
<rect x="28.45" y="91.36" width="1.58" height="1.64" fill="#cde5f8"/>
<rect x="28.45" y="94.20" width="1.58" height="1.64" fill="#cde5f8"/>
<rect x="28.45" y="97.04" width="1.58" height="1.64" fill="#cde5f8"/>
<rect x="28.45" y="99.87" width="1.58" height="1.64" fill="#cde5f8"/>
<rect x="28.45" y="102.71" width="1.58" height="1.64" fill="#cde5f8"/>
<rect x="28.45" y="105.55" width="1.58" height="1.64" fill="#cde5f8"/>
<rect x="28.45" y="108.38" width="1.58" height="1.64" fill="#cde5f8"/>
<rect x="28.45" y="111.22" width="1.58" height="1.64" fill="#cde5f8"/>
<rect x="28.45" y="114.05" width="1.58" height="1.64" fill="#cde5f8"/>
<rect x="28.45" y="116.89" width="1.58" height="1.64" fill="#cde5f8"/>
<rect x="28.45" y="119.73" width="1.58" height="1.64" fill="#cde5f8"/>
<rect x="28.45" y="122.56" width="1.58" height="1.64" fill="#cde5f8"/>
<rect x="31.23" y="0.60" width="1.58" height="1.64" fill="#cde5f8"/>
<rect x="31.23" y="3.44" width="1.58" height="1.64" fill="#cde5f8"/>
<rect x="31.23" y="6.27" width="1.58" height="1.64" fill="#cde5f8"/>
<rect x="31.23" y="9.11" width="1.58" height="1.64" fill="#cde5f8"/>
<rect x="31.23" y="11.95" width="1.58" height="1.64" fill="#cde5f8"/>
<rect x="31.23" y="14.78" width="1.58" height="1.64" fill="#cde5f8"/>
<rect x="31.23" y="17.62" width="1.58" height="1.64" fill="#cde5f8"/>
<rect x="31.23" y="20.45" width="1.58" height="1.64" fill="#cde5f8"/>
<rect x="31.23" y="23.29" width="1.58" height="1.64" fill="#cde5f8"/>
<rect x="31.23" y="26.13" width="1.58" height="1.64" fill="#cde5f8"/>
<rect x="31.23" y="28.96" width="1.58" height="1.64" fill="#cde5f8"/>
<rect x="31.23" y="31.80" width="1.58" height="1.64" fill="#cde5f8"/>
<rect x="31.23" y="34.64" width="1.58" height="1.64" fill="#cde5f8"/>
<rect x="31.23" y="37.47" width="1.58" height="1.64" fill="#cde5f8"/>
<rect x="31.23" y="40.31" width="1.58" height="1.64" fill="#cde5f8"/>
<rect x="31.23" y="43.15" width="1.58" height="1.64" fill="#cde5f8"/>
<rect x="31.23" y="45.98" width="1.58" height="1.64" fill="#cde5f8"/>
<rect x="31.23" y="48.82" width="1.58" height="1.64" fill="#cde5f8"/>
<rect x="31.23" y="51.65" width="1.58" height="1.64" fill="#cde5f8"/>
<rect x="31.23" y="54.49" width="1.58" height="1.64" fill="#cde5f8"/>
<rect x="31.23" y="57.33" width="1.58" height="1.64" fill="#cde5f8"/>
<rect x="31.23" y="60.16" width="1.58" height="1.64" fill="#cde5f8"/>
<rect x="31.23" y="63.00" width="1.58" height="1.64" fill="#cde5f8"/>
<rect x="31.23" y="65.84" width="1.58" height="1.64" fill="#cde5f8"/>
<rect x="31.23" y="68.67" width="1.58" height="1.64" fill="#cde5f8"/>
<rect x="31.23" y="71.51" width="1.58" height="1.64" fill="#cde5f8"/>
<rect x="31.23" y="74.35" width="1.58" height="1.64" fill="#cde5f8"/>
<rect x="31.23" y="77.18" width="1.58" height="1.64" fill="#cde5f8"/>
<rect x="31.23" y="80.02" width="1.58" height="1.64" fill="#cde5f8"/>
<rect x="31.23" y="82.85" width="1.58" height="1.64" fill="#cde5f8"/>
<rect x="31.23" y="85.69" width="1.58" height="1.64" fill="#cde5f8"/>
<rect x="31.23" y="88.53" width="1.58" height="1.64" fill="#cde5f8"/>
<rect x="31.23" y="91.36" width="1.58" height="1.64" fill="#cde5f8"/>
<rect x="31.23" y="94.20" width="1.58" height="1.64" fill="#cde5f8"/>
<rect x="31.23" y="97.04" width="1.58" height="1.64" fill="#cde5f8"/>
<rect x="31.23" y="99.87" width="1.58" height="1.64" fill="#cde5f8"/>
<rect x="31.23" y="102.71" width="1.58" height="1.64" fill="#cde5f8"/>
<rect x="31.23" y="105.55" width="1.58" height="1.64" fill="#cde5f8"/>
<rect x="31.23" y="108.38" width="1.58" height="1.64" fill="#cde5f8"/>
<rect x="31.23" y="111.22" width="1.58" height="1.64" fill="#cde5f8"/>
<rect x="31.23" y="114.05" width="1.58" height="1.64" fill="#cde5f8"/>
<rect x="31.23" y="116.89" width="1.58" height="1.64" fill="#cde5f8"/>
<rect x="31.23" y="119.73" width="1.58" height="1.64" fill="#cde5f8"/>
<rect x="31.23" y="122.56" width="1.58" height="1.64" fill="#cde5f8"/>
<rect x="34.02" y="0.60" width="1.58" height="1.64" fill="#cde5f8"/>
<rect x="34.02" y="3.44" width="1.58" height="1.64" fill="#cde5f8"/>
<rect x="34.02" y="6.27" width="1.58" height="1.64" fill="#cde5f8"/>
<rect x="34.02" y="9.11" width="1.58" height="1.64" fill="#cde5f8"/>
<rect x="34.02" y="11.95" width="1.58" height="1.64" fill="#cde5f8"/>
<rect x="34.02" y="14.78" width="1.58" height="1.64" fill="#cde5f8"/>
<rect x="34.02" y="17.62" width="1.58" height="1.64" fill="#cde5f8"/>
<rect x="34.02" y="20.45" width="1.58" height="1.64" fill="#cde5f8"/>
<rect x="34.02" y="23.29" width="1.58" height="1.64" fill="#cde5f8"/>
<rect x="34.02" y="26.13" width="1.58" height="1.64" fill="#cde5f8"/>
<rect x="34.02" y="28.96" width="1.58" height="1.64" fill="#cde5f8"/>
<rect x="34.02" y="31.80" width="1.58" height="1.64" fill="#cde5f8"/>
<rect x="34.02" y="34.64" width="1.58" height="1.64" fill="#cde5f8"/>
<rect x="34.02" y="37.47" width="1.58" height="1.64" fill="#cde5f8"/>
<rect x="34.02" y="40.31" width="1.58" height="1.64" fill="#cde5f8"/>
<rect x="34.02" y="43.15" width="1.58" height="1.64" fill="#cde5f8"/>
<rect x="34.02" y="45.98" width="1.58" height="1.64" fill="#cde5f8"/>
<rect x="34.02" y="48.82" width="1.58" height="1.64" fill="#cde5f8"/>
<rect x="34.02" y="51.65" width="1.58" height="1.64" fill="#cde5f8"/>
<rect x="34.02" y="54.49" width="1.58" height="1.64" fill="#cde5f8"/>
<rect x="34.02" y="57.33" width="1.58" height="1.64" fill="#cde5f8"/>
<rect x="34.02" y="60.16" width="1.58" height="1.64" fill="#cde5f8"/>
<rect x="34.02" y="63.00" width="1.58" height="1.64" fill="#cde5f8"/>
<rect x="34.02" y="65.84" width="1.58" height="1.64" fill="#cde5f8"/>
<rect x="34.02" y="68.67" width="1.58" height="1.64" fill="#cde5f8"/>
<rect x="34.02" y="71.51" width="1.58" height="1.64" fill="#cde5f8"/>
<rect x="34.02" y="74.35" width="1.58" height="1.64" fill="#cde5f8"/>
<rect x="34.02" y="77.18" width="1.58" height="1.64" fill="#cde5f8"/>
<rect x="34.02" y="80.02" width="1.58" height="1.64" fill="#cde5f8"/>
<rect x="34.02" y="82.85" width="1.58" height="1.64" fill="#cde5f8"/>
<rect x="34.02" y="85.69" width="1.58" height="1.64" fill="#cde5f8"/>
<rect x="34.02" y="88.53" width="1.58" height="1.64" fill="#cde5f8"/>
<rect x="34.02" y="91.36" width="1.58" height="1.64" fill="#cde5f8"/>
<rect x="34.02" y="94.20" width="1.58" height="1.64" fill="#cde5f8"/>
<rect x="34.02" y="97.04" width="1.58" height="1.64" fill="#cde5f8"/>
<rect x="34.02" y="99.87" width="1.58" height="1.64" fill="#cde5f8"/>
<rect x="34.02" y="102.71" width="1.58" height="1.64" fill="#cde5f8"/>
<rect x="34.02" y="105.55" width="1.58" height="1.64" fill="#cde5f8"/>
<rect x="34.02" y="108.38" width="1.58" height="1.64" fill="#cde5f8"/>
<rect x="34.02" y="111.22" width="1.58" height="1.64" fill="#cde5f8"/>
<rect x="34.02" y="114.05" width="1.58" height="1.64" fill="#cde5f8"/>
<rect x="34.02" y="116.89" width="1.58" height="1.64" fill="#cde5f8"/>
<rect x="34.02" y="119.73" width="1.58" height="1.64" fill="#cde5f8"/>
<rect x="34.02" y="122.56" width="1.58" height="1.64" fill="#cde5f8"/>
<rect x="0" y="0" width="36.2" height="124.8" fill="none" stroke="#1f3f60" stroke-width="1.3"/>
<rect x="36.2" y="0" width="2.0" height="124.8" fill="#2f5478" stroke="#1f3f60" stroke-width="0.9"/>
<line x1="39.1" y1="0" x2="39.1" y2="125.8" stroke="#ffffff" stroke-width="1.1"/>
</g>
<line x1="96.0" y1="300.2" x2="91.0" y2="310.0" stroke="#304b56" stroke-width="1.4" stroke-dasharray="3,2"/>
<line x1="128.3" y1="459.6" x2="137.6" y2="444.5" stroke="#304b56" stroke-width="1.4" stroke-dasharray="3.5,2.2"/>
<path d="M203.84,308.24 A76.15,76.15 0 0 1 203.84,431.76" fill="none" stroke="#f4f8fb" stroke-width="14.899999999999991"/>
<polygon points="200.01,314.66 198.96,313.90 207.68,301.81 208.73,302.58" fill="#304b56"/>
<polygon points="206.92,320.46 205.01,318.70 215.61,308.20 216.56,309.09" fill="#304b56"/>
<polygon points="213.78,328.13 212.16,326.10 224.20,317.30 225.01,318.32" fill="#304b56"/>
<polygon points="219.42,336.73 218.12,334.48 231.34,327.58 231.99,328.70" fill="#304b56"/>
<polygon points="223.71,346.07 222.76,343.65 236.87,338.81 237.34,340.02" fill="#304b56"/>
<polygon points="226.56,355.96 225.98,353.42 240.65,350.74 240.94,352.00" fill="#304b56"/>
<polygon points="227.90,366.15 227.71,363.56 242.62,363.09 242.71,364.39" fill="#304b56"/>
<polygon points="227.71,376.44 227.90,373.85 242.71,375.61 242.62,376.91" fill="#304b56"/>
<polygon points="225.98,386.58 226.56,384.04 240.94,388.00 240.65,389.26" fill="#304b56"/>
<polygon points="222.76,396.35 223.71,393.93 237.34,399.98 236.87,401.19" fill="#304b56"/>
<polygon points="218.12,405.52 219.42,403.27 231.99,411.30 231.34,412.42" fill="#304b56"/>
<polygon points="212.16,413.90 213.78,411.87 225.01,421.68 224.20,422.70" fill="#304b56"/>
<polygon points="205.01,421.30 206.92,419.54 216.56,430.91 215.61,431.80" fill="#304b56"/>
<polygon points="198.96,426.10 200.01,425.34 208.73,437.42 207.68,438.19" fill="#304b56"/>
<path d="M196.51,315.25 A66.2,66.2 0 0 1 196.51,424.75" fill="none" stroke="#304b56" stroke-width="1.3"/>
<path d="M197.92,313.18 A68.7,68.7 0 0 1 197.92,426.82" fill="none" stroke="#304b56" stroke-width="1.2"/>
<path d="M206.29,300.86 A83.6,83.6 0 0 1 206.29,439.14" fill="none" stroke="#304b56" stroke-width="1.3"/>
<path d="M207.70,298.79 A86.1,86.1 0 0 1 207.70,441.21" fill="none" stroke="#304b56" stroke-width="1.3"/>
<line x1="240.5" y1="302.7" x2="231.2" y2="319.8" stroke="#304b56" stroke-width="1.4" stroke-dasharray="3.5,2.2"/>
<line x1="263" y1="217.8" x2="296" y2="217.8" stroke="#304b56" stroke-width="1.7"/>
<line x1="354" y1="218" x2="391" y2="218" stroke="#304b56" stroke-width="1.7"/>
<line x1="430" y1="218" x2="466" y2="218" stroke="#304b56" stroke-width="1.7"/>
<line x1="597" y1="218" x2="633" y2="218" stroke="#304b56" stroke-width="1.7"/>
<line x1="711" y1="218" x2="753" y2="218" stroke="#304b56" stroke-width="1.7"/>
<rect x="125.1" y="185.8" width="137.9" height="64.5" fill="#d3ecf4" stroke="#304b56" stroke-width="1.7"/>
<polygon points="295,184.6 354.2,217.9 295,251" fill="#66c1da" stroke="#304b56" stroke-width="2" stroke-linejoin="miter"/>
<rect x="391.6" y="201.0" width="37.8" height="30.3" fill="#a6d9ea" stroke="#304b56" stroke-width="1.7"/>
<path d="M395.50,209.40 L396.51,210.36 L397.52,211.27 L398.53,212.10 L399.54,212.82 L400.55,213.38 L401.56,213.77 L402.57,213.97 L403.58,213.97 L404.59,213.77 L405.60,213.38 L406.61,212.82 L407.62,212.10 L408.63,211.27 L409.64,210.36 L410.65,209.40 L411.66,208.44 L412.67,207.53 L413.68,206.70 L414.69,205.98 L415.70,205.42 L416.71,205.03 L417.72,204.83 L418.73,204.83 L419.74,205.03 L420.75,205.42 L421.76,205.98 L422.77,206.70 L423.78,207.53 L424.79,208.44 L425.80,209.40" fill="none" stroke="#1f3a4e" stroke-width="1.75" stroke-linecap="round"/>
<path d="M395.50,216.00 L396.51,216.96 L397.52,217.87 L398.53,218.70 L399.54,219.42 L400.55,219.98 L401.56,220.37 L402.57,220.57 L403.58,220.57 L404.59,220.37 L405.60,219.98 L406.61,219.42 L407.62,218.70 L408.63,217.87 L409.64,216.96 L410.65,216.00 L411.66,215.04 L412.67,214.13 L413.68,213.30 L414.69,212.58 L415.70,212.02 L416.71,211.63 L417.72,211.43 L418.73,211.43 L419.74,211.63 L420.75,212.02 L421.76,212.58 L422.77,213.30 L423.78,214.13 L424.79,215.04 L425.80,216.00" fill="none" stroke="#1f3a4e" stroke-width="1.75" stroke-linecap="round"/>
<path d="M395.50,222.60 L396.51,223.56 L397.52,224.47 L398.53,225.30 L399.54,226.02 L400.55,226.58 L401.56,226.97 L402.57,227.17 L403.58,227.17 L404.59,226.97 L405.60,226.58 L406.61,226.02 L407.62,225.30 L408.63,224.47 L409.64,223.56 L410.65,222.60 L411.66,221.64 L412.67,220.73 L413.68,219.90 L414.69,219.18 L415.70,218.62 L416.71,218.23 L417.72,218.03 L418.73,218.03 L419.74,218.23 L420.75,218.62 L421.76,219.18 L422.77,219.90 L423.78,220.73 L424.79,221.64 L425.80,222.60" fill="none" stroke="#1f3a4e" stroke-width="1.75" stroke-linecap="round"/>
<line x1="409" y1="206" x2="412" y2="211" stroke="#1f3c52" stroke-width="1.3"/>
<line x1="409" y1="221" x2="412" y2="226" stroke="#1f3c52" stroke-width="1.3"/>
<rect x="466" y="178" width="131.2" height="79.8" fill="#e2f1f7" stroke="#304b56" stroke-width="1.7"/>
<circle cx="493.5" cy="218.9" r="14.6" fill="#a6d9ea" stroke="#304b56" stroke-width="1.8"/>
<line x1="483.17634" y1="208.57634000000002" x2="503.82366" y2="229.22366" stroke="#304b56" stroke-width="1.6"/>
<line x1="483.17634" y1="229.22366" x2="503.82366" y2="208.57634000000002" stroke="#304b56" stroke-width="1.6"/>
<line x1="515" y1="235.5" x2="546" y2="204.5" stroke="#304b56" stroke-width="1.5"/>
<polygon points="521.4,199 556.9,217.9 521.4,237.9" fill="#66c1da" stroke="#304b56" stroke-width="1.7"/>
<polygon points="551.5,199.3 542.5,203.8 547,208.3" fill="#304b56"/>
<polygon points="565.9,183 585.4,190 585.4,246.8 565.9,252.8" fill="#a6d9ea" stroke="#304b56" stroke-width="1.8"/>
<polygon points="632.8,217.8 655,195.7 711.2,195.7 711.2,240.4 655,240.4" fill="#66c1da" stroke="#304b56" stroke-width="1.7"/>
<rect x="753.4" y="185.8" width="136.8" height="64.5" fill="#d3ecf4" stroke="#304b56" stroke-width="1.7"/>
<defs><filter id="mblur" x="-2%" y="-2%" width="104%" height="104%"><feGaussianBlur stdDeviation="0.6"/></filter><filter id="spk" x="0" y="0" width="1" height="1"><feTurbulence type="fractalNoise" baseFrequency="0.45" numOctaves="2" seed="7"/><feColorMatrix type="matrix" values="0 0 0 0 0  0 0 0 0 0  0 0 0 0 0  0 0 0 -3 1.5"/><feComposite in2="SourceGraphic" operator="in"/></filter><filter id="spkw" x="0" y="0" width="1" height="1"><feTurbulence type="fractalNoise" baseFrequency="0.5" numOctaves="2" seed="11"/><feColorMatrix type="matrix" values="0 0 0 0 1  0 0 0 0 1  0 0 0 0 1  0 0 0 -3 1.4"/><feComposite in2="SourceGraphic" operator="in"/></filter></defs>
<rect x="694" y="277" width="119" height="115" fill="#050505"/>
<g transform="translate(694,277)" filter="url(#mblur)">
<path d="M6,80 C10,76 16,74 22,74 L44,72 C56,72 62,74 70,82 C78,87 90,87 100,84 C98,94 97,104 96.5,115 L5,115 Z" fill="#606060"/>
<path d="M6,80 C10,76 16,74 22,74 L44,72 C56,72 62,74 70,82 C78,87 90,87 100,84 C98,94 97,104 96.5,115 L5,115 Z" fill="#000" filter="url(#spk)" opacity="0.75"/>
<path d="M40,86 C46,82 54,82 60,86 C64,92 64,102 62,110 L38,110 C37,102 38,92 40,86 Z" fill="#a8a8a8"/>
<path d="M40,86 C46,82 54,82 60,86 C64,92 64,102 62,110 L38,110 C37,102 38,92 40,86 Z" fill="#000" filter="url(#spk)" opacity="0.35"/>
<path d="M88,86 C92,86 96,85 100,84 C98,94 97,104 96.5,115 L86,115 C86,104 87,94 88,86 Z" fill="#b0b0b0"/>
<path d="M6,78 C8,74 14,73 19,76 C21,84 21,94 22,100 C22,104 21,107 19,109 C14,110 9,109 7,106 C5,98 6,88 6,78 Z" fill="#a0a0a0"/>
<path d="M6,78 C8,74 14,73 19,76 C21,84 21,94 22,100 C22,104 21,107 19,109 C14,110 9,109 7,106 C5,98 6,88 6,78 Z" fill="#000" filter="url(#spk)" opacity="0.9"/>
<path d="M20,70 C26,68 34,70 42,72 C50,74 56,76 55,80 C52,84 46,84 44,90 C42,96 40,100 34,103 C28,102 25,96 23,88 C21,82 20,76 20,70 Z" fill="#060606"/>
<path d="M40,64 C50,64 58,66 64,74 C68,80 70,84 74,88" fill="none" stroke="#111" stroke-width="3.2"/>
<line x1="62" y1="90" x2="72" y2="92" stroke="#2a2a2a" stroke-width="1.6"/>
<line x1="63" y1="96" x2="74" y2="98" stroke="#2a2a2a" stroke-width="1.6"/>
<line x1="64" y1="102" x2="74" y2="104" stroke="#2a2a2a" stroke-width="1.6"/>
<line x1="60" y1="108" x2="70" y2="110" stroke="#2a2a2a" stroke-width="1.6"/>
<path d="M8.8,57.5 C10,63 11,66 12.6,67.6 C15,70 18,71.4 21.4,71.4 C25,71 28,70 31.5,68.9" fill="none" stroke="#9a9a9a" stroke-width="1.3"/>
<path d="M8.5,60 C10,43 17,27 30,20 C41,14 51,12.5 60,12.5 C72,12 86,13 95,19 C104,26 108.5,40 109.5,58 C110,68 108,76 105,80 C101,86 98,96 97,106 L96.5,115" fill="none" stroke="#b5b5b5" stroke-width="1.4"/>
<defs><clipPath id="brc"><path d="M15,62 C14.5,50 17,40 25,31 C31,25 37,22 42,21 C49,18 55,17.5 61,17.5 C69,17.5 75,17.5 81,19 C88,21 93,25 96,29 C101,35 104,41 105,46 C106,52 106,58 105.5,62 C104.5,66 102,70 99,72 C92,67 82,63 70,63 C60,63 54,63 48,63 C42,64 38,65 34,65 C26,65 18,65 15,62 Z"/></clipPath></defs>
<path d="M15,62 C14.5,50 17,40 25,31 C31,25 37,22 42,21 C49,18 55,17.5 61,17.5 C69,17.5 75,17.5 81,19 C88,21 93,25 96,29 C101,35 104,41 105,46 C106,52 106,58 105.5,62 C104.5,66 102,70 99,72 C92,67 82,63 70,63 C60,63 54,63 48,63 C42,64 38,65 34,65 C26,65 18,65 15,62 Z" fill="#d4d4d4"/>
<g clip-path="url(#brc)">
<path d="M14.0,62.0 L20.0,61.0 L14.0,60.2 Z" fill="#4a4a4a"/>
<path d="M14.5,53.9 L21.5,54.2 L14.8,52.2 Z" fill="#4a4a4a"/>
<path d="M15.2,50.4 L23.1,51.5 L15.6,48.7 Z" fill="#4a4a4a"/>
<path d="M17.9,42.7 L26.4,45.7 L18.7,41.1 Z" fill="#4a4a4a"/>
<path d="M19.6,39.5 L25.3,41.7 L20.5,37.9 Z" fill="#4a4a4a"/>
<path d="M24.4,32.8 L30.3,36.6 L25.6,31.4 Z" fill="#4a4a4a"/>
<path d="M27.0,30.1 L33.3,35.1 L28.3,28.8 Z" fill="#4a4a4a"/>
<path d="M33.6,24.8 L39.4,31.8 L35.1,23.8 Z" fill="#4a4a4a"/>
<path d="M36.8,22.9 L40.5,27.7 L38.4,22.0 Z" fill="#4a4a4a"/>
<path d="M44.7,19.5 L47.8,25.8 L46.4,18.9 Z" fill="#4a4a4a"/>
<path d="M48.4,18.4 L51.1,26.0 L50.1,18.0 Z" fill="#4a4a4a"/>
<path d="M56.9,17.1 L58.3,26.0 L58.7,17.0 Z" fill="#4a4a4a"/>
<path d="M60.8,17.0 L61.5,23.0 L62.6,17.1 Z" fill="#4a4a4a"/>
<path d="M69.4,17.9 L68.7,24.9 L71.1,18.3 Z" fill="#4a4a4a"/>
<path d="M73.1,18.8 L71.6,26.7 L74.8,19.3 Z" fill="#4a4a4a"/>
<path d="M81.2,21.8 L77.7,30.1 L82.7,22.6 Z" fill="#4a4a4a"/>
<path d="M84.5,23.6 L82.0,29.1 L86.0,24.6 Z" fill="#4a4a4a"/>
<path d="M91.4,28.5 L87.1,34.1 L92.7,29.7 Z" fill="#4a4a4a"/>
<path d="M94.1,31.1 L88.6,37.0 L95.3,32.4 Z" fill="#4a4a4a"/>
<path d="M99.3,37.5 L91.9,42.8 L100.2,39.1 Z" fill="#4a4a4a"/>
<path d="M101.1,40.7 L96.1,44.1 L101.9,42.3 Z" fill="#4a4a4a"/>
<path d="M104.3,48.2 L97.7,50.9 L104.7,50.0 Z" fill="#4a4a4a"/>
<path d="M105.2,51.7 L97.4,54.0 L105.5,53.5 Z" fill="#4a4a4a"/>
<path d="M106.0,59.8 L97.0,60.5 L106.0,61.6 Z" fill="#4a4a4a"/>
</g>
<path d="M15,62 C14.5,50 17,40 25,31 C31,25 37,22 42,21 C49,18 55,17.5 61,17.5 C69,17.5 75,17.5 81,19 C88,21 93,25 96,29 C101,35 104,41 105,46 C106,52 106,58 105.5,62 C104.5,66 102,70 99,72 C92,67 82,63 70,63 C60,63 54,63 48,63 C42,64 38,65 34,65 C26,65 18,65 15,62 Z" fill="none" stroke="#2a2a2a" stroke-width="0.8"/>
<path d="M37,53 C40,46 46,41.5 55,40 C64,39 71,41 74,45 C76,48 76,51 74.5,52.5 C72,49 68,45 60,44 C52,43.5 45,46 40,51 C39,53 38,54 37,53 Z" fill="#161616"/>
<path d="M48,62 C56,60 66,58 76,60 C86,62 96,66 101,70" fill="none" stroke="#1c1c1c" stroke-width="1.8"/>
<path d="M60,66 C65,62 78,61 90,63 C97,66 100,73 96,80 C90,85 78,86 69,84 C63,81 60,74 60,66 Z" fill="#c8c8c8"/>
<path d="M64,84 C72,88 86,88 96,82 C101,77 104,70 105,63" fill="none" stroke="#141414" stroke-width="2.4"/>
<path d="M106.5,67 C104,76 101,84 100,90 C98,98 97,106 96.5,115" fill="none" stroke="#e0e0e0" stroke-width="1.8"/>
<line x1="110.5" y1="35" x2="110.5" y2="95" stroke="#3a3a3a" stroke-width="0.8"/>
<rect x="2" y="3" width="22" height="1.1" fill="#5a5a5a"/>
<rect x="8" y="6" width="24" height="1.1" fill="#5a5a5a"/>
<rect x="8" y="9" width="12" height="1.1" fill="#5a5a5a"/>
<rect x="8" y="12" width="12" height="1.1" fill="#5a5a5a"/>
<rect x="8" y="15" width="14" height="1.1" fill="#5a5a5a"/>
<rect x="11" y="18" width="8" height="1.1" fill="#5a5a5a"/>
<rect x="8" y="21" width="10" height="1.1" fill="#5a5a5a"/>
<rect x="88" y="3" width="12" height="1.1" fill="#5a5a5a"/>
<rect x="78" y="6" width="30" height="1.1" fill="#5a5a5a"/>
<rect x="82" y="9" width="14" height="1.1" fill="#5a5a5a"/>
<rect x="63" y="5.5" width="1.8" height="2.4" fill="#777"/>
<rect x="6" y="108" width="32" height="1.1" fill="#555"/><rect x="40" y="108" width="20" height="1.1" fill="#555"/>
</g>
<text x="716" y="466.8" font-size="19.2" font-weight="normal" fill="#c3dfb0" text-rendering="geometricPrecision">www.cntronics.com</text>
<g fill="#223d55" stroke="#223d55" stroke-width="0.15" font-weight="bold" text-rendering="geometricPrecision">
<text id="t_Digital" x="198.40" y="11.90" font-size="9.90" letter-spacing="0.352">Digital</text>
<text id="t_XRay" x="198.84" y="24.50" font-size="9.90" letter-spacing="0.580">X-Ray</text>
<text id="t_MRI" x="118.78" y="30.50" font-size="10.20" letter-spacing="0.300">MRI</text>
<text id="t_RFCoils" x="107.66" y="43.00" font-size="9.90" letter-spacing="0.186">RF Coils</text>
<text id="t_Ultrasound" x="23.96" y="134.90" font-size="9.90" letter-spacing="0.279">Ultrasound</text>
<text id="t_Transducer" x="8.90" y="147.50" font-size="9.90" letter-spacing="0.247">Transducer Array</text>
<text id="t_Collimator" x="149.78" y="139.60" font-size="9.90" letter-spacing="0.317">Collimator</text>
<text id="t_Scintillator" x="189.78" y="158.00" font-size="9.90" letter-spacing="0.300">Scintillator</text>
<text id="t_Amplification" x="288.28" y="171.90" font-size="9.90" letter-spacing="0.233">Amplification</text>
<text id="t_Filtering" x="389.28" y="171.90" font-size="9.90" letter-spacing="0.180">Filtering</text>
<text id="t_AppSpec" x="482.34" y="158.70" font-size="9.90" letter-spacing="0.238">Application Specific</text>
<text id="t_SignalChain" x="500.46" y="170.60" font-size="9.90" letter-spacing="0.212">Signal Chain</text>
<text id="t_Detection" x="170.46" y="219.80" font-size="9.90" letter-spacing="0.300">Detection</text>
<text id="t_Mixer" x="479.40" y="198.00" font-size="9.90" letter-spacing="0.580">Mixer</text>
<text id="t_VGA" x="524.50" y="221.00" font-size="10.20" letter-spacing="0.000">VGA</text>
<text id="t_ADC" x="666.52" y="222.50" font-size="11.10" letter-spacing="0.780">ADC</text>
<text id="t_DataImage" x="766.40" y="220.50" font-size="9.90" letter-spacing="0.374">Data/Image Processor</text>
<text id="t_PET" x="121.72" y="286.80" font-size="10.20" letter-spacing="0.300">PET</text>
<text id="t_Scintillators" x="66.46" y="297.10" font-size="9.90" letter-spacing="0.114">Scintillators</text>
<text id="t_CT" x="206.46" y="286.80" font-size="10.30" letter-spacing="0.200">CT</text>
<text id="t_DetMod" x="233.72" y="299.50" font-size="9.90" letter-spacing="0.415">Detector Module</text>
<text id="t_PMT" x="54.72" y="469.10" font-size="9.90" letter-spacing="0.294">Photomultiplier Tubes (PMTs)</text>
<text id="t_Multiplexer" x="0" y="0" font-size="9.90" letter-spacing="0.250" text-anchor="middle" transform="translate(578.60,217.00) rotate(-90)">Multiplexer</text>
</g>
</svg>
</body></html>
